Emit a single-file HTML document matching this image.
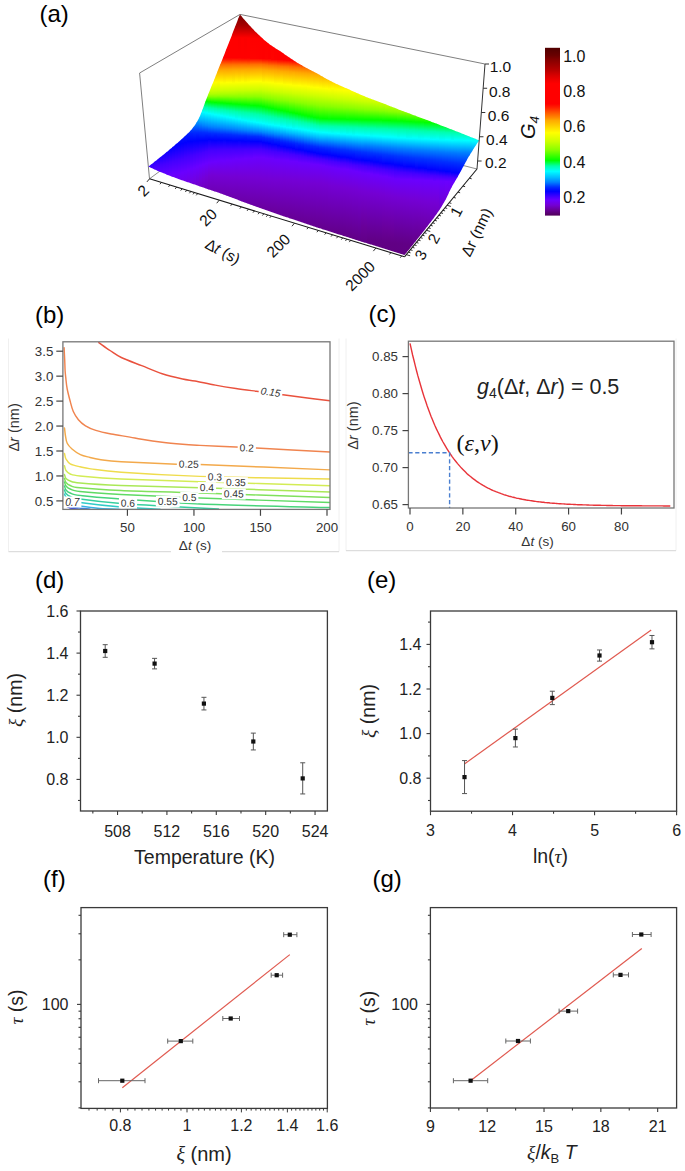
<!DOCTYPE html>
<html><head><meta charset="utf-8"><style>
html,body{margin:0;padding:0;background:#fff;}
svg{display:block;font-family:"Liberation Sans",sans-serif;}
</style></head><body>
<svg width="685" height="1171" viewBox="0 0 685 1171">
<rect width="685" height="1171" fill="#fff"/>
<path d="M139.6 73.0 L240.0 14.4 L485.0 64.0" fill="none" stroke="#707070" stroke-width="0.9" />
<path d="M149.5 178.8 L139.6 73.0" fill="none" stroke="#707070" stroke-width="0.9" />
<path d="M149.5 178.8 L243.6 109.4" fill="none" stroke="#707070" stroke-width="0.8" />
<path d="M477.0 169.0 L243.6 109.4" fill="none" stroke="#707070" stroke-width="0.8" />
<defs><clipPath id="surf"><path d="M240.0 14.4L241.9 16.7L243.7 18.9L245.6 21.1L247.5 23.2L249.3 25.3L251.2 27.3L253.1 29.2L254.9 31.2L256.8 33.0L258.6 34.8L260.5 36.6L262.4 38.3L264.2 39.9L266.1 41.5L268.0 43.0L269.8 44.5L271.7 45.8L273.6 47.0L275.4 48.2L277.3 49.4L279.2 50.6L281.0 51.8L282.9 53.1L284.8 54.4L286.7 55.7L288.6 57.0L290.4 58.3L292.3 59.6L294.2 60.8L296.1 62.0L298.0 63.2L299.9 64.3L301.8 65.3L303.7 66.4L305.6 67.4L307.5 68.4L309.4 69.4L311.3 70.4L313.2 71.4L315.2 72.5L317.1 73.5L319.0 74.6L320.9 75.7L322.9 76.8L324.8 77.9L326.7 79.0L328.7 80.1L330.6 81.1L332.5 82.1L334.5 83.0L336.4 83.9L338.4 84.8L340.3 85.7L342.3 86.6L344.3 87.4L346.2 88.3L348.2 89.1L350.2 90.0L352.1 90.9L354.1 91.8L356.1 92.7L358.1 93.5L360.1 94.4L362.0 95.3L364.0 96.1L366.0 97.0L368.0 97.8L370.0 98.6L372.0 99.3L374.1 100.1L376.1 100.8L378.1 101.6L380.1 102.3L382.1 103.1L384.2 103.8L386.2 104.6L388.2 105.4L390.3 106.2L392.3 107.0L394.4 107.8L396.4 108.6L398.5 109.4L400.5 110.2L402.6 111.0L404.6 111.7L406.7 112.5L408.8 113.3L410.9 114.1L412.9 114.9L415.0 115.6L417.1 116.4L419.2 117.2L421.3 118.0L423.4 118.8L425.5 119.6L427.6 120.3L429.7 121.1L431.8 121.9L433.9 122.7L436.1 123.5L438.2 124.3L440.3 125.2L442.4 126.0L444.6 126.8L446.7 127.6L448.8 128.4L451.0 129.3L453.1 130.1L455.3 131.0L457.4 131.8L459.6 132.6L461.8 133.5L463.9 134.3L466.1 135.2L468.3 136.1L470.4 136.9L472.6 137.8L474.8 138.6L477.0 139.5L479.2 140.4L479.2 140.4L478.6 141.2L478.1 142.0L477.5 142.8L477.0 143.6L476.4 144.4L475.9 145.3L475.3 146.1L474.8 147.0L474.2 147.8L473.7 148.7L473.1 149.6L472.5 150.5L472.0 151.4L471.4 152.4L470.8 153.3L470.2 154.2L469.7 155.2L469.1 156.1L468.5 157.1L467.9 158.1L467.4 159.1L466.8 160.1L466.2 161.2L465.6 162.3L465.0 163.4L464.4 164.5L463.8 165.6L463.2 166.7L462.6 167.8L462.0 168.9L461.5 170.0L460.9 171.1L460.3 172.1L459.7 173.2L459.1 174.3L458.5 175.3L457.9 176.4L457.3 177.4L456.7 178.4L456.1 179.5L455.5 180.5L454.9 181.6L454.3 182.6L453.6 183.7L453.0 184.7L452.4 185.8L451.8 187.0L451.2 188.1L450.6 189.2L450.0 190.4L449.3 191.7L448.7 193.1L448.1 194.5L447.4 195.9L446.8 197.2L446.2 198.5L445.5 199.7L444.9 200.8L444.3 201.9L443.7 203.0L443.0 204.1L442.4 205.1L441.8 206.2L441.2 207.2L440.5 208.2L439.9 209.2L439.3 210.1L438.7 211.0L438.0 211.9L437.4 212.8L436.8 213.7L436.2 214.6L435.5 215.4L434.9 216.3L434.3 217.2L433.7 218.0L433.0 218.9L432.4 219.7L431.8 220.6L431.1 221.4L430.5 222.2L429.8 223.0L429.2 223.9L428.6 224.7L427.9 225.5L427.3 226.4L426.6 227.2L426.0 228.0L425.4 228.9L424.7 229.7L424.1 230.5L423.4 231.4L422.8 232.2L422.1 233.0L421.4 233.9L420.8 234.7L420.1 235.5L419.5 236.4L418.8 237.2L418.1 238.1L417.5 238.9L416.8 239.8L416.1 240.6L415.5 241.4L414.8 242.3L414.1 243.1L413.5 244.0L412.8 244.8L412.1 245.7L411.4 246.5L410.8 247.3L410.1 248.2L409.4 249.0L408.7 249.9L408.0 250.7L407.3 251.6L406.6 252.4L406.0 253.2L405.3 254.1L404.6 254.9L404.6 254.9L402.2 254.2L399.7 253.4L397.3 252.7L394.9 252.0L392.5 251.2L390.1 250.5L387.8 249.8L385.4 249.0L383.0 248.3L380.6 247.5L378.3 246.8L375.9 246.1L373.6 245.3L371.2 244.6L368.9 243.9L366.5 243.1L364.2 242.4L361.9 241.7L359.6 240.9L357.2 240.2L354.9 239.5L352.6 238.8L350.3 238.0L348.0 237.3L345.7 236.6L343.5 235.9L341.2 235.1L338.9 234.4L336.6 233.7L334.4 233.0L332.1 232.3L329.8 231.5L327.6 230.8L325.4 230.1L323.1 229.4L320.9 228.6L318.6 227.9L316.4 227.2L314.2 226.5L312.0 225.7L309.8 225.0L307.6 224.3L305.4 223.5L303.2 222.8L301.0 222.1L298.8 221.3L296.6 220.6L294.4 219.8L292.2 219.1L290.1 218.4L287.9 217.6L285.7 216.9L283.6 216.2L281.4 215.4L279.3 214.7L277.1 213.9L275.0 213.2L272.9 212.5L270.7 211.7L268.6 211.0L266.5 210.3L264.4 209.5L262.2 208.8L260.1 208.1L258.0 207.3L255.9 206.6L253.8 205.8L251.7 205.0L249.6 204.3L247.6 203.5L245.5 202.7L243.4 201.9L241.3 201.2L239.3 200.4L237.2 199.6L235.1 198.8L233.1 198.1L231.0 197.3L229.0 196.5L226.9 195.8L224.9 195.0L222.9 194.3L220.8 193.6L218.8 192.8L216.8 192.1L214.8 191.4L212.7 190.7L210.7 190.1L208.7 189.4L206.7 188.7L204.7 188.0L202.7 187.3L200.8 186.7L198.8 186.0L196.8 185.3L194.8 184.6L192.8 183.9L190.9 183.3L188.9 182.6L186.9 181.9L185.0 181.2L183.0 180.5L181.1 179.9L179.1 179.2L177.2 178.5L175.3 177.8L173.3 177.1L171.4 176.4L169.5 175.6L167.5 174.9L165.6 174.1L163.7 173.3L161.8 172.5L159.8 171.7L157.9 170.9L156.0 170.0L154.1 169.2L152.2 168.3L150.3 167.5L148.4 166.6L148.4 166.6L149.2 165.9L150.1 165.2L151.0 164.5L151.9 163.9L152.8 163.2L153.7 162.5L154.5 161.8L155.4 161.1L156.3 160.4L157.2 159.7L158.0 159.0L158.9 158.3L159.8 157.6L160.6 157.0L161.5 156.3L162.3 155.6L163.2 154.9L164.1 154.2L164.9 153.5L165.8 152.8L166.6 152.1L167.5 151.4L168.3 150.7L169.1 150.0L170.0 149.3L170.8 148.6L171.7 147.9L172.5 147.1L173.3 146.4L174.2 145.7L175.0 145.0L175.8 144.3L176.6 143.6L177.5 142.9L178.3 142.2L179.1 141.5L179.9 140.7L180.7 140.0L181.6 139.3L182.4 138.5L183.2 137.8L184.0 137.1L184.8 136.3L185.6 135.6L186.4 134.8L187.2 134.1L188.0 133.3L188.8 132.5L189.6 131.7L190.4 130.8L191.2 130.0L192.0 129.1L192.7 128.1L193.5 127.1L194.3 126.0L195.0 124.9L195.8 123.7L196.5 122.5L197.3 121.3L198.0 120.0L198.8 118.6L199.5 117.1L200.2 115.4L200.9 113.6L201.7 111.7L202.4 109.8L203.1 107.9L203.8 105.9L204.5 104.0L205.2 102.1L205.9 100.3L206.6 98.5L207.3 96.7L208.0 95.0L208.7 93.2L209.4 91.5L210.1 89.7L210.8 88.0L211.5 86.2L212.2 84.5L213.0 82.7L213.7 80.9L214.4 79.2L215.1 77.4L215.8 75.6L216.5 73.9L217.2 72.1L217.9 70.3L218.6 68.6L219.3 66.8L220.0 65.1L220.7 63.4L221.4 61.7L222.1 59.9L222.8 58.2L223.5 56.5L224.2 54.7L224.9 53.0L225.5 51.3L226.2 49.5L226.9 47.8L227.6 46.0L228.3 44.3L229.0 42.5L229.7 40.8L230.4 39.0L231.1 37.2L231.8 35.4L232.5 33.6L233.1 31.8L233.8 30.0L234.5 28.2L235.2 26.5L235.9 24.7L236.6 23.0L237.3 21.3L237.9 19.5L238.6 17.8L239.3 16.1L240.0 14.4Z"/></clipPath></defs>
<g clip-path="url(#surf)">
<defs><linearGradient id="g0" x1="0" y1="0" x2="0" y2="1"><stop offset="0.000" stop-color="#2a00ff"/><stop offset="0.923" stop-color="#4700ff"/></linearGradient><linearGradient id="g1" x1="0" y1="0" x2="0" y2="1"><stop offset="0.000" stop-color="#2100ff"/><stop offset="0.952" stop-color="#4e00ff"/></linearGradient><linearGradient id="g2" x1="0" y1="0" x2="0" y2="1"><stop offset="0.000" stop-color="#1c00ff"/><stop offset="0.593" stop-color="#4400ff"/><stop offset="0.963" stop-color="#5400ff"/></linearGradient><linearGradient id="g3" x1="0" y1="0" x2="0" y2="1"><stop offset="0.000" stop-color="#1500ff"/><stop offset="0.571" stop-color="#4500ff"/><stop offset="0.971" stop-color="#5b00ff"/></linearGradient><linearGradient id="g4" x1="0" y1="0" x2="0" y2="1"><stop offset="0.000" stop-color="#0d00ff"/><stop offset="0.524" stop-color="#4300ff"/><stop offset="1.000" stop-color="#6100ff"/></linearGradient><linearGradient id="g5" x1="0" y1="0" x2="0" y2="1"><stop offset="0.000" stop-color="#0700ff"/><stop offset="0.520" stop-color="#4400ff"/><stop offset="1.000" stop-color="#6800ff"/></linearGradient><linearGradient id="g6" x1="0" y1="0" x2="0" y2="1"><stop offset="0.000" stop-color="#0000ff"/><stop offset="0.526" stop-color="#4500ff"/><stop offset="0.982" stop-color="#6a00fe"/></linearGradient><linearGradient id="g7" x1="0" y1="0" x2="0" y2="1"><stop offset="0.000" stop-color="#0004ff"/><stop offset="0.062" stop-color="#0300ff"/><stop offset="0.492" stop-color="#4300ff"/><stop offset="0.892" stop-color="#6900ff"/><stop offset="0.985" stop-color="#6b00f9"/></linearGradient><linearGradient id="g8" x1="0" y1="0" x2="0" y2="1"><stop offset="0.000" stop-color="#0008ff"/><stop offset="0.083" stop-color="#0100ff"/><stop offset="0.500" stop-color="#4500ff"/><stop offset="0.861" stop-color="#6a00ff"/><stop offset="1.000" stop-color="#6d00f4"/></linearGradient><linearGradient id="g9" x1="0" y1="0" x2="0" y2="1"><stop offset="0.000" stop-color="#000cff"/><stop offset="0.101" stop-color="#0000ff"/><stop offset="0.481" stop-color="#4200ff"/><stop offset="0.810" stop-color="#6700ff"/><stop offset="0.987" stop-color="#6d00f1"/></linearGradient><linearGradient id="g10" x1="0" y1="0" x2="0" y2="1"><stop offset="0.000" stop-color="#0013ff"/><stop offset="0.138" stop-color="#0000ff"/><stop offset="0.506" stop-color="#4500ff"/><stop offset="0.805" stop-color="#6900ff"/><stop offset="0.989" stop-color="#6e00ee"/></linearGradient><linearGradient id="g11" x1="0" y1="0" x2="0" y2="1"><stop offset="0.000" stop-color="#0018ff"/><stop offset="0.170" stop-color="#0200ff"/><stop offset="0.511" stop-color="#4600ff"/><stop offset="0.787" stop-color="#6a00ff"/><stop offset="1.000" stop-color="#6f00e9"/></linearGradient><linearGradient id="g12" x1="0" y1="0" x2="0" y2="1"><stop offset="0.000" stop-color="#0025ff"/><stop offset="0.196" stop-color="#0200ff"/><stop offset="0.490" stop-color="#4300ff"/><stop offset="0.765" stop-color="#6900ff"/><stop offset="1.000" stop-color="#7000e6"/></linearGradient><linearGradient id="g13" x1="0" y1="0" x2="0" y2="1"><stop offset="0.000" stop-color="#003fff"/><stop offset="0.091" stop-color="#001bff"/><stop offset="0.218" stop-color="#0001ff"/><stop offset="0.491" stop-color="#4200ff"/><stop offset="0.745" stop-color="#6a00ff"/><stop offset="1.000" stop-color="#7100e0"/></linearGradient><linearGradient id="g14" x1="0" y1="0" x2="0" y2="1"><stop offset="0.000" stop-color="#0060ff"/><stop offset="0.119" stop-color="#0021ff"/><stop offset="0.254" stop-color="#0000ff"/><stop offset="0.492" stop-color="#4200ff"/><stop offset="0.712" stop-color="#6700ff"/><stop offset="1.000" stop-color="#7300d9"/></linearGradient><linearGradient id="g15" x1="0" y1="0" x2="0" y2="1"><stop offset="0.000" stop-color="#0093ff"/><stop offset="0.155" stop-color="#002dff"/><stop offset="0.295" stop-color="#0001ff"/><stop offset="0.512" stop-color="#4400ff"/><stop offset="0.713" stop-color="#6900ff"/><stop offset="0.992" stop-color="#7400d3"/></linearGradient><linearGradient id="g16" x1="0" y1="0" x2="0" y2="1"><stop offset="0.000" stop-color="#00c9ff"/><stop offset="0.213" stop-color="#002eff"/><stop offset="0.255" stop-color="#001aff"/><stop offset="0.340" stop-color="#0000ff"/><stop offset="0.525" stop-color="#4400ff"/><stop offset="0.709" stop-color="#6a00ff"/><stop offset="0.993" stop-color="#7200cc"/></linearGradient><linearGradient id="g17" x1="0" y1="0" x2="0" y2="1"><stop offset="0.000" stop-color="#00ffdf"/><stop offset="0.025" stop-color="#00fffe"/><stop offset="0.126" stop-color="#00b8ff"/><stop offset="0.289" stop-color="#002cff"/><stop offset="0.390" stop-color="#0001ff"/><stop offset="0.553" stop-color="#4500ff"/><stop offset="0.704" stop-color="#6900ff"/><stop offset="0.906" stop-color="#7400d4"/><stop offset="0.994" stop-color="#7100c5"/></linearGradient><linearGradient id="g18" x1="0" y1="0" x2="0" y2="1"><stop offset="0.000" stop-color="#00ff10"/><stop offset="0.056" stop-color="#00ffa2"/><stop offset="0.124" stop-color="#00fcff"/><stop offset="0.271" stop-color="#0081ff"/><stop offset="0.350" stop-color="#002eff"/><stop offset="0.441" stop-color="#0000ff"/><stop offset="0.576" stop-color="#4500ff"/><stop offset="0.712" stop-color="#6a00ff"/><stop offset="0.881" stop-color="#7400d4"/><stop offset="0.994" stop-color="#7000bf"/></linearGradient><linearGradient id="g19" x1="0" y1="0" x2="0" y2="1"><stop offset="0.000" stop-color="#afff00"/><stop offset="0.031" stop-color="#7bff00"/><stop offset="0.082" stop-color="#00ff02"/><stop offset="0.144" stop-color="#00ffac"/><stop offset="0.195" stop-color="#00fff9"/><stop offset="0.205" stop-color="#00faff"/><stop offset="0.328" stop-color="#0087ff"/><stop offset="0.400" stop-color="#0030ff"/><stop offset="0.431" stop-color="#0019ff"/><stop offset="0.482" stop-color="#0100ff"/><stop offset="0.595" stop-color="#4500ff"/><stop offset="0.718" stop-color="#6a00ff"/><stop offset="0.862" stop-color="#7400d4"/><stop offset="0.995" stop-color="#6f00ba"/></linearGradient><linearGradient id="g20" x1="0" y1="0" x2="0" y2="1"><stop offset="0.000" stop-color="#e8ff00"/><stop offset="0.038" stop-color="#ceff00"/><stop offset="0.076" stop-color="#a7ff00"/><stop offset="0.095" stop-color="#87ff00"/><stop offset="0.142" stop-color="#0aff00"/><stop offset="0.152" stop-color="#00ff10"/><stop offset="0.199" stop-color="#00ff9e"/><stop offset="0.256" stop-color="#00fffe"/><stop offset="0.379" stop-color="#0083ff"/><stop offset="0.445" stop-color="#0029ff"/><stop offset="0.502" stop-color="#0003ff"/><stop offset="0.607" stop-color="#4500ff"/><stop offset="0.720" stop-color="#6a00fe"/><stop offset="0.844" stop-color="#7400d4"/><stop offset="0.995" stop-color="#6e00b5"/></linearGradient><linearGradient id="g21" x1="0" y1="0" x2="0" y2="1"><stop offset="0.000" stop-color="#ffe400"/><stop offset="0.035" stop-color="#feff00"/><stop offset="0.105" stop-color="#caff00"/><stop offset="0.132" stop-color="#afff00"/><stop offset="0.158" stop-color="#7eff00"/><stop offset="0.202" stop-color="#05ff00"/><stop offset="0.211" stop-color="#00ff16"/><stop offset="0.254" stop-color="#00ffa0"/><stop offset="0.263" stop-color="#00ffb3"/><stop offset="0.307" stop-color="#00fffd"/><stop offset="0.316" stop-color="#00f7ff"/><stop offset="0.421" stop-color="#0082ff"/><stop offset="0.474" stop-color="#0030ff"/><stop offset="0.535" stop-color="#0000ff"/><stop offset="0.623" stop-color="#4400ff"/><stop offset="0.728" stop-color="#6a00fe"/><stop offset="0.842" stop-color="#7400d4"/><stop offset="1.000" stop-color="#6d00b2"/></linearGradient><linearGradient id="g22" x1="0" y1="0" x2="0" y2="1"><stop offset="0.000" stop-color="#ffb200"/><stop offset="0.090" stop-color="#fffd00"/><stop offset="0.155" stop-color="#cdff00"/><stop offset="0.180" stop-color="#b3ff00"/><stop offset="0.204" stop-color="#8aff00"/><stop offset="0.253" stop-color="#00ff02"/><stop offset="0.302" stop-color="#00ffa3"/><stop offset="0.351" stop-color="#00fffc"/><stop offset="0.359" stop-color="#00f8ff"/><stop offset="0.457" stop-color="#0080ff"/><stop offset="0.506" stop-color="#002dff"/><stop offset="0.522" stop-color="#001bff"/><stop offset="0.563" stop-color="#0200ff"/><stop offset="0.637" stop-color="#4100ff"/><stop offset="0.735" stop-color="#6a00ff"/><stop offset="0.849" stop-color="#7400d4"/><stop offset="0.996" stop-color="#6d00b2"/></linearGradient><linearGradient id="g23" x1="0" y1="0" x2="0" y2="1"><stop offset="0.000" stop-color="#ff6300"/><stop offset="0.046" stop-color="#ffa700"/><stop offset="0.137" stop-color="#fffa00"/><stop offset="0.198" stop-color="#d0ff00"/><stop offset="0.229" stop-color="#adff00"/><stop offset="0.244" stop-color="#91ff00"/><stop offset="0.290" stop-color="#0fff00"/><stop offset="0.298" stop-color="#00ff09"/><stop offset="0.344" stop-color="#00ffa6"/><stop offset="0.389" stop-color="#00fffc"/><stop offset="0.397" stop-color="#00f8ff"/><stop offset="0.481" stop-color="#0089ff"/><stop offset="0.534" stop-color="#002aff"/><stop offset="0.580" stop-color="#0002ff"/><stop offset="0.656" stop-color="#4500ff"/><stop offset="0.740" stop-color="#6900ff"/><stop offset="0.855" stop-color="#7400d3"/><stop offset="1.000" stop-color="#6d00b0"/></linearGradient><linearGradient id="g24" x1="0" y1="0" x2="0" y2="1"><stop offset="0.000" stop-color="#ff0000"/><stop offset="0.014" stop-color="#ff0900"/><stop offset="0.057" stop-color="#ff6b00"/><stop offset="0.100" stop-color="#ffac00"/><stop offset="0.186" stop-color="#fffe00"/><stop offset="0.194" stop-color="#f9ff00"/><stop offset="0.244" stop-color="#cdff00"/><stop offset="0.272" stop-color="#a6ff00"/><stop offset="0.287" stop-color="#8aff00"/><stop offset="0.330" stop-color="#09ff00"/><stop offset="0.337" stop-color="#00ff0f"/><stop offset="0.380" stop-color="#00ffa9"/><stop offset="0.423" stop-color="#00fffb"/><stop offset="0.430" stop-color="#00f8ff"/><stop offset="0.509" stop-color="#0087ff"/><stop offset="0.559" stop-color="#0028ff"/><stop offset="0.602" stop-color="#0100ff"/><stop offset="0.667" stop-color="#4200ff"/><stop offset="0.746" stop-color="#6900ff"/><stop offset="0.853" stop-color="#7400d5"/><stop offset="0.996" stop-color="#6d00af"/></linearGradient><linearGradient id="g25" x1="0" y1="0" x2="0" y2="1"><stop offset="0.000" stop-color="#ff0000"/><stop offset="0.061" stop-color="#ff0100"/><stop offset="0.108" stop-color="#ff7300"/><stop offset="0.142" stop-color="#ffa800"/><stop offset="0.230" stop-color="#fcff00"/><stop offset="0.277" stop-color="#cfff00"/><stop offset="0.304" stop-color="#acff00"/><stop offset="0.324" stop-color="#82ff00"/><stop offset="0.365" stop-color="#03ff00"/><stop offset="0.372" stop-color="#00ff16"/><stop offset="0.412" stop-color="#00ffab"/><stop offset="0.453" stop-color="#00fffa"/><stop offset="0.459" stop-color="#00f8ff"/><stop offset="0.534" stop-color="#0085ff"/><stop offset="0.574" stop-color="#002fff"/><stop offset="0.615" stop-color="#0003ff"/><stop offset="0.682" stop-color="#4500ff"/><stop offset="0.757" stop-color="#6a00fe"/><stop offset="0.858" stop-color="#7400d4"/><stop offset="1.000" stop-color="#6c00ad"/></linearGradient><linearGradient id="g26" x1="0" y1="0" x2="0" y2="1"><stop offset="0.000" stop-color="#ff0000"/><stop offset="0.102" stop-color="#ff0000"/><stop offset="0.115" stop-color="#ff1600"/><stop offset="0.147" stop-color="#ff6c00"/><stop offset="0.179" stop-color="#ffa300"/><stop offset="0.262" stop-color="#ffff00"/><stop offset="0.313" stop-color="#ccff00"/><stop offset="0.332" stop-color="#b1ff00"/><stop offset="0.351" stop-color="#8bff00"/><stop offset="0.396" stop-color="#00ff03"/><stop offset="0.441" stop-color="#00ffac"/><stop offset="0.479" stop-color="#00fffa"/><stop offset="0.486" stop-color="#00f9ff"/><stop offset="0.556" stop-color="#0083ff"/><stop offset="0.594" stop-color="#002cff"/><stop offset="0.633" stop-color="#0000ff"/><stop offset="0.690" stop-color="#4300ff"/><stop offset="0.760" stop-color="#6a00fe"/><stop offset="0.863" stop-color="#7400d3"/><stop offset="0.997" stop-color="#6c00ad"/></linearGradient><linearGradient id="g27" x1="0" y1="0" x2="0" y2="1"><stop offset="0.000" stop-color="#e30000"/><stop offset="0.030" stop-color="#ff0000"/><stop offset="0.145" stop-color="#ff0000"/><stop offset="0.157" stop-color="#ff1600"/><stop offset="0.187" stop-color="#ff6c00"/><stop offset="0.217" stop-color="#ffa400"/><stop offset="0.295" stop-color="#feff00"/><stop offset="0.343" stop-color="#cbff00"/><stop offset="0.361" stop-color="#b0ff00"/><stop offset="0.380" stop-color="#8bff00"/><stop offset="0.422" stop-color="#02ff00"/><stop offset="0.428" stop-color="#00ff15"/><stop offset="0.464" stop-color="#00ffa4"/><stop offset="0.506" stop-color="#00feff"/><stop offset="0.572" stop-color="#0087ff"/><stop offset="0.608" stop-color="#002eff"/><stop offset="0.645" stop-color="#0001ff"/><stop offset="0.699" stop-color="#4300ff"/><stop offset="0.765" stop-color="#6a00fe"/><stop offset="0.861" stop-color="#7400d4"/><stop offset="1.000" stop-color="#6c00aa"/></linearGradient><linearGradient id="g28" x1="0" y1="0" x2="0" y2="1"><stop offset="0.000" stop-color="#aa0000"/><stop offset="0.069" stop-color="#ff0000"/><stop offset="0.183" stop-color="#ff0000"/><stop offset="0.223" stop-color="#ff7400"/><stop offset="0.252" stop-color="#ffaa00"/><stop offset="0.327" stop-color="#faff00"/><stop offset="0.367" stop-color="#ceff00"/><stop offset="0.390" stop-color="#aaff00"/><stop offset="0.407" stop-color="#84ff00"/><stop offset="0.447" stop-color="#00ff04"/><stop offset="0.487" stop-color="#00ffa7"/><stop offset="0.527" stop-color="#00ffff"/><stop offset="0.590" stop-color="#0085ff"/><stop offset="0.625" stop-color="#002bff"/><stop offset="0.659" stop-color="#0200ff"/><stop offset="0.711" stop-color="#4600ff"/><stop offset="0.768" stop-color="#6a00fe"/><stop offset="0.860" stop-color="#7400d5"/><stop offset="0.997" stop-color="#6c00aa"/></linearGradient><linearGradient id="g29" x1="0" y1="0" x2="0" y2="1"><stop offset="0.000" stop-color="#8a0000"/><stop offset="0.038" stop-color="#a30000"/><stop offset="0.109" stop-color="#ff0000"/><stop offset="0.218" stop-color="#ff0000"/><stop offset="0.256" stop-color="#ff7400"/><stop offset="0.283" stop-color="#ffaa00"/><stop offset="0.349" stop-color="#fffe00"/><stop offset="0.354" stop-color="#faff00"/><stop offset="0.392" stop-color="#cdff00"/><stop offset="0.414" stop-color="#a9ff00"/><stop offset="0.431" stop-color="#85ff00"/><stop offset="0.469" stop-color="#01ff00"/><stop offset="0.474" stop-color="#00ff15"/><stop offset="0.512" stop-color="#00ffb0"/><stop offset="0.550" stop-color="#00faff"/><stop offset="0.605" stop-color="#0089ff"/><stop offset="0.638" stop-color="#002dff"/><stop offset="0.670" stop-color="#0100ff"/><stop offset="0.714" stop-color="#4000ff"/><stop offset="0.768" stop-color="#6900ff"/><stop offset="0.866" stop-color="#7400d3"/><stop offset="0.997" stop-color="#6b00a8"/></linearGradient><linearGradient id="g30" x1="0" y1="0" x2="0" y2="1"><stop offset="0.000" stop-color="#750000"/><stop offset="0.063" stop-color="#a70000"/><stop offset="0.127" stop-color="#fc0000"/><stop offset="0.233" stop-color="#ff0000"/><stop offset="0.243" stop-color="#ff1500"/><stop offset="0.270" stop-color="#ff6e00"/><stop offset="0.296" stop-color="#ffa500"/><stop offset="0.365" stop-color="#fcff00"/><stop offset="0.407" stop-color="#c9ff00"/><stop offset="0.439" stop-color="#8cff00"/><stop offset="0.481" stop-color="#00ff04"/><stop offset="0.519" stop-color="#00ffa1"/><stop offset="0.556" stop-color="#00fff8"/><stop offset="0.561" stop-color="#00faff"/><stop offset="0.614" stop-color="#0087ff"/><stop offset="0.646" stop-color="#002aff"/><stop offset="0.672" stop-color="#0003ff"/><stop offset="0.720" stop-color="#4400ff"/><stop offset="0.772" stop-color="#6a00fe"/><stop offset="0.862" stop-color="#7400d5"/><stop offset="1.000" stop-color="#6b00a6"/></linearGradient><linearGradient id="g31" x1="0" y1="0" x2="0" y2="1"><stop offset="0.000" stop-color="#770000"/><stop offset="0.058" stop-color="#a30000"/><stop offset="0.126" stop-color="#ff0000"/><stop offset="0.232" stop-color="#ff0000"/><stop offset="0.242" stop-color="#ff1c00"/><stop offset="0.268" stop-color="#ff7500"/><stop offset="0.295" stop-color="#ffab00"/><stop offset="0.358" stop-color="#ffff00"/><stop offset="0.400" stop-color="#cdff00"/><stop offset="0.421" stop-color="#a8ff00"/><stop offset="0.437" stop-color="#86ff00"/><stop offset="0.474" stop-color="#0aff00"/><stop offset="0.479" stop-color="#00ff0a"/><stop offset="0.516" stop-color="#00ffa3"/><stop offset="0.558" stop-color="#00fbff"/><stop offset="0.611" stop-color="#0084ff"/><stop offset="0.642" stop-color="#0027ff"/><stop offset="0.668" stop-color="#0000ff"/><stop offset="0.711" stop-color="#4100ff"/><stop offset="0.763" stop-color="#6a00fe"/><stop offset="0.858" stop-color="#7400d4"/><stop offset="1.000" stop-color="#6a00a4"/></linearGradient><linearGradient id="g32" x1="0" y1="0" x2="0" y2="1"><stop offset="0.000" stop-color="#880000"/><stop offset="0.043" stop-color="#a70000"/><stop offset="0.107" stop-color="#fc0000"/><stop offset="0.213" stop-color="#ff0000"/><stop offset="0.219" stop-color="#ff0500"/><stop offset="0.224" stop-color="#ff1400"/><stop offset="0.251" stop-color="#ff6f00"/><stop offset="0.277" stop-color="#ffa600"/><stop offset="0.347" stop-color="#fbff00"/><stop offset="0.389" stop-color="#c8ff00"/><stop offset="0.421" stop-color="#8dff00"/><stop offset="0.464" stop-color="#05ff00"/><stop offset="0.469" stop-color="#00ff10"/><stop offset="0.507" stop-color="#00ffa5"/><stop offset="0.549" stop-color="#00fbff"/><stop offset="0.603" stop-color="#0082ff"/><stop offset="0.629" stop-color="#002fff"/><stop offset="0.640" stop-color="#0019ff"/><stop offset="0.661" stop-color="#0300ff"/><stop offset="0.704" stop-color="#4500ff"/><stop offset="0.752" stop-color="#6a00ff"/><stop offset="0.853" stop-color="#7400d3"/><stop offset="0.997" stop-color="#6a00a4"/></linearGradient><linearGradient id="g33" x1="0" y1="0" x2="0" y2="1"><stop offset="0.000" stop-color="#950000"/><stop offset="0.022" stop-color="#a30000"/><stop offset="0.092" stop-color="#ff0000"/><stop offset="0.200" stop-color="#ff0000"/><stop offset="0.211" stop-color="#ff1b00"/><stop offset="0.238" stop-color="#ff7500"/><stop offset="0.259" stop-color="#ffa100"/><stop offset="0.330" stop-color="#feff00"/><stop offset="0.373" stop-color="#ccff00"/><stop offset="0.411" stop-color="#88ff00"/><stop offset="0.454" stop-color="#00ff00"/><stop offset="0.497" stop-color="#00ffa8"/><stop offset="0.541" stop-color="#00fcff"/><stop offset="0.595" stop-color="#0080ff"/><stop offset="0.622" stop-color="#002bff"/><stop offset="0.649" stop-color="#0002ff"/><stop offset="0.692" stop-color="#4200ff"/><stop offset="0.741" stop-color="#6900ff"/><stop offset="0.843" stop-color="#7400d5"/><stop offset="1.000" stop-color="#6a00a2"/></linearGradient><linearGradient id="g34" x1="0" y1="0" x2="0" y2="1"><stop offset="0.000" stop-color="#a20000"/><stop offset="0.060" stop-color="#f10000"/><stop offset="0.077" stop-color="#ff0000"/><stop offset="0.186" stop-color="#ff0300"/><stop offset="0.219" stop-color="#ff7000"/><stop offset="0.247" stop-color="#ffa800"/><stop offset="0.312" stop-color="#fffe00"/><stop offset="0.318" stop-color="#faff00"/><stop offset="0.362" stop-color="#c7ff00"/><stop offset="0.395" stop-color="#8dff00"/><stop offset="0.444" stop-color="#00ff05"/><stop offset="0.488" stop-color="#00ffaa"/><stop offset="0.532" stop-color="#00fcff"/><stop offset="0.581" stop-color="#008bff"/><stop offset="0.614" stop-color="#0028ff"/><stop offset="0.641" stop-color="#0100ff"/><stop offset="0.685" stop-color="#4500ff"/><stop offset="0.734" stop-color="#6a00fe"/><stop offset="0.838" stop-color="#7400d4"/><stop offset="0.997" stop-color="#6a00a2"/></linearGradient><linearGradient id="g35" x1="0" y1="0" x2="0" y2="1"><stop offset="0.000" stop-color="#b40000"/><stop offset="0.039" stop-color="#ea0000"/><stop offset="0.061" stop-color="#ff0000"/><stop offset="0.171" stop-color="#ff0300"/><stop offset="0.204" stop-color="#ff7000"/><stop offset="0.232" stop-color="#ffa800"/><stop offset="0.298" stop-color="#fffe00"/><stop offset="0.304" stop-color="#f9ff00"/><stop offset="0.343" stop-color="#ceff00"/><stop offset="0.381" stop-color="#8dff00"/><stop offset="0.431" stop-color="#00ff01"/><stop offset="0.475" stop-color="#00ffa2"/><stop offset="0.519" stop-color="#00fffc"/><stop offset="0.525" stop-color="#00f7ff"/><stop offset="0.575" stop-color="#0082ff"/><stop offset="0.602" stop-color="#002aff"/><stop offset="0.630" stop-color="#0100ff"/><stop offset="0.674" stop-color="#4600ff"/><stop offset="0.718" stop-color="#6a00ff"/><stop offset="0.829" stop-color="#7400d4"/><stop offset="1.000" stop-color="#69009f"/></linearGradient><linearGradient id="g36" x1="0" y1="0" x2="0" y2="1"><stop offset="0.000" stop-color="#cc0000"/><stop offset="0.045" stop-color="#ff0000"/><stop offset="0.156" stop-color="#ff0200"/><stop offset="0.190" stop-color="#ff7100"/><stop offset="0.218" stop-color="#ffa900"/><stop offset="0.285" stop-color="#ffff00"/><stop offset="0.330" stop-color="#ceff00"/><stop offset="0.369" stop-color="#8eff00"/><stop offset="0.419" stop-color="#03ff00"/><stop offset="0.425" stop-color="#00ff10"/><stop offset="0.469" stop-color="#00ffac"/><stop offset="0.514" stop-color="#00fdff"/><stop offset="0.564" stop-color="#0086ff"/><stop offset="0.592" stop-color="#002dff"/><stop offset="0.620" stop-color="#0000ff"/><stop offset="0.665" stop-color="#4600ff"/><stop offset="0.709" stop-color="#6a00fe"/><stop offset="0.821" stop-color="#7400d5"/><stop offset="1.000" stop-color="#69009e"/></linearGradient><linearGradient id="g37" x1="0" y1="0" x2="0" y2="1"><stop offset="0.000" stop-color="#e30000"/><stop offset="0.028" stop-color="#ff0000"/><stop offset="0.141" stop-color="#ff0100"/><stop offset="0.175" stop-color="#ff7100"/><stop offset="0.203" stop-color="#ffa900"/><stop offset="0.271" stop-color="#ffff00"/><stop offset="0.316" stop-color="#cdff00"/><stop offset="0.356" stop-color="#8fff00"/><stop offset="0.407" stop-color="#08ff00"/><stop offset="0.412" stop-color="#00ff0a"/><stop offset="0.458" stop-color="#00ffa6"/><stop offset="0.503" stop-color="#00fffb"/><stop offset="0.508" stop-color="#00f7ff"/><stop offset="0.554" stop-color="#008bff"/><stop offset="0.582" stop-color="#0030ff"/><stop offset="0.610" stop-color="#0002ff"/><stop offset="0.655" stop-color="#4600ff"/><stop offset="0.701" stop-color="#6a00fe"/><stop offset="0.819" stop-color="#7400d3"/><stop offset="1.000" stop-color="#69009c"/></linearGradient><linearGradient id="g38" x1="0" y1="0" x2="0" y2="1"><stop offset="0.000" stop-color="#f50000"/><stop offset="0.011" stop-color="#ff0000"/><stop offset="0.126" stop-color="#ff0000"/><stop offset="0.137" stop-color="#ff1e00"/><stop offset="0.160" stop-color="#ff6d00"/><stop offset="0.189" stop-color="#ffa600"/><stop offset="0.263" stop-color="#fbff00"/><stop offset="0.309" stop-color="#c8ff00"/><stop offset="0.349" stop-color="#89ff00"/><stop offset="0.400" stop-color="#02ff00"/><stop offset="0.406" stop-color="#00ff11"/><stop offset="0.451" stop-color="#00ffac"/><stop offset="0.497" stop-color="#00fdff"/><stop offset="0.549" stop-color="#0084ff"/><stop offset="0.577" stop-color="#002aff"/><stop offset="0.606" stop-color="#0200ff"/><stop offset="0.646" stop-color="#4300ff"/><stop offset="0.691" stop-color="#6a00ff"/><stop offset="0.811" stop-color="#7400d4"/><stop offset="1.000" stop-color="#69009b"/></linearGradient><linearGradient id="g39" x1="0" y1="0" x2="0" y2="1"><stop offset="0.000" stop-color="#ff0000"/><stop offset="0.115" stop-color="#ff0200"/><stop offset="0.150" stop-color="#ff7200"/><stop offset="0.179" stop-color="#ffa900"/><stop offset="0.248" stop-color="#fffe00"/><stop offset="0.254" stop-color="#f9ff00"/><stop offset="0.300" stop-color="#c7ff00"/><stop offset="0.340" stop-color="#89ff00"/><stop offset="0.392" stop-color="#04ff00"/><stop offset="0.398" stop-color="#00ff0f"/><stop offset="0.444" stop-color="#00ffac"/><stop offset="0.490" stop-color="#00fdff"/><stop offset="0.542" stop-color="#0083ff"/><stop offset="0.571" stop-color="#002bff"/><stop offset="0.599" stop-color="#0100ff"/><stop offset="0.640" stop-color="#4300ff"/><stop offset="0.686" stop-color="#6a00ff"/><stop offset="0.807" stop-color="#7400d3"/><stop offset="0.997" stop-color="#69009b"/></linearGradient><linearGradient id="g40" x1="0" y1="0" x2="0" y2="1"><stop offset="0.000" stop-color="#ff0000"/><stop offset="0.099" stop-color="#ff0000"/><stop offset="0.110" stop-color="#ff1700"/><stop offset="0.140" stop-color="#ff7400"/><stop offset="0.169" stop-color="#ffab00"/><stop offset="0.238" stop-color="#feff00"/><stop offset="0.285" stop-color="#ceff00"/><stop offset="0.331" stop-color="#88ff00"/><stop offset="0.384" stop-color="#06ff00"/><stop offset="0.390" stop-color="#00ff0c"/><stop offset="0.436" stop-color="#00ffab"/><stop offset="0.483" stop-color="#00fdff"/><stop offset="0.535" stop-color="#0083ff"/><stop offset="0.564" stop-color="#002bff"/><stop offset="0.593" stop-color="#0000ff"/><stop offset="0.634" stop-color="#4300ff"/><stop offset="0.680" stop-color="#6a00fe"/><stop offset="0.797" stop-color="#7400d5"/><stop offset="1.000" stop-color="#680099"/></linearGradient><linearGradient id="g41" x1="0" y1="0" x2="0" y2="1"><stop offset="0.000" stop-color="#ff0000"/><stop offset="0.094" stop-color="#ff0400"/><stop offset="0.129" stop-color="#ff7200"/><stop offset="0.158" stop-color="#ffa900"/><stop offset="0.228" stop-color="#fffd00"/><stop offset="0.234" stop-color="#faff00"/><stop offset="0.281" stop-color="#c9ff00"/><stop offset="0.322" stop-color="#8cff00"/><stop offset="0.380" stop-color="#00ff00"/><stop offset="0.427" stop-color="#00ffa2"/><stop offset="0.474" stop-color="#00fffc"/><stop offset="0.480" stop-color="#00f6ff"/><stop offset="0.526" stop-color="#0089ff"/><stop offset="0.556" stop-color="#0032ff"/><stop offset="0.567" stop-color="#001aff"/><stop offset="0.591" stop-color="#0400ff"/><stop offset="0.632" stop-color="#4600ff"/><stop offset="0.673" stop-color="#6a00ff"/><stop offset="0.795" stop-color="#7400d3"/><stop offset="1.000" stop-color="#680098"/></linearGradient><linearGradient id="g42" x1="0" y1="0" x2="0" y2="1"><stop offset="0.000" stop-color="#ff0000"/><stop offset="0.082" stop-color="#ff0100"/><stop offset="0.118" stop-color="#ff6e00"/><stop offset="0.147" stop-color="#ffa600"/><stop offset="0.224" stop-color="#fcff00"/><stop offset="0.271" stop-color="#ccff00"/><stop offset="0.318" stop-color="#86ff00"/><stop offset="0.371" stop-color="#09ff00"/><stop offset="0.376" stop-color="#00ff07"/><stop offset="0.424" stop-color="#00ffaa"/><stop offset="0.471" stop-color="#00fcff"/><stop offset="0.524" stop-color="#0082ff"/><stop offset="0.553" stop-color="#002cff"/><stop offset="0.582" stop-color="#0002ff"/><stop offset="0.624" stop-color="#4300ff"/><stop offset="0.671" stop-color="#6a00fe"/><stop offset="0.788" stop-color="#7400d4"/><stop offset="1.000" stop-color="#680097"/></linearGradient><linearGradient id="g43" x1="0" y1="0" x2="0" y2="1"><stop offset="0.000" stop-color="#ff0000"/><stop offset="0.071" stop-color="#ff0000"/><stop offset="0.083" stop-color="#ff1d00"/><stop offset="0.107" stop-color="#ff6a00"/><stop offset="0.136" stop-color="#ffa300"/><stop offset="0.213" stop-color="#feff00"/><stop offset="0.260" stop-color="#ceff00"/><stop offset="0.308" stop-color="#8bff00"/><stop offset="0.367" stop-color="#04ff00"/><stop offset="0.373" stop-color="#00ff0f"/><stop offset="0.420" stop-color="#00ffaf"/><stop offset="0.462" stop-color="#00fffc"/><stop offset="0.467" stop-color="#00f5ff"/><stop offset="0.515" stop-color="#0088ff"/><stop offset="0.544" stop-color="#0033ff"/><stop offset="0.556" stop-color="#001bff"/><stop offset="0.580" stop-color="#0100ff"/><stop offset="0.621" stop-color="#4600ff"/><stop offset="0.663" stop-color="#6a00ff"/><stop offset="0.781" stop-color="#7400d4"/><stop offset="1.000" stop-color="#670097"/></linearGradient><linearGradient id="g44" x1="0" y1="0" x2="0" y2="1"><stop offset="0.000" stop-color="#ff0000"/><stop offset="0.060" stop-color="#ff0000"/><stop offset="0.071" stop-color="#ff1a00"/><stop offset="0.101" stop-color="#ff7500"/><stop offset="0.131" stop-color="#ffab00"/><stop offset="0.202" stop-color="#fffe00"/><stop offset="0.208" stop-color="#faff00"/><stop offset="0.256" stop-color="#c9ff00"/><stop offset="0.304" stop-color="#85ff00"/><stop offset="0.363" stop-color="#00ff02"/><stop offset="0.411" stop-color="#00ffa9"/><stop offset="0.458" stop-color="#00fbff"/><stop offset="0.494" stop-color="#00adff"/><stop offset="0.542" stop-color="#002dff"/><stop offset="0.554" stop-color="#0018ff"/><stop offset="0.577" stop-color="#0500ff"/><stop offset="0.613" stop-color="#4300ff"/><stop offset="0.661" stop-color="#6a00fd"/><stop offset="0.774" stop-color="#7400d5"/><stop offset="1.000" stop-color="#670096"/></linearGradient><linearGradient id="g45" x1="0" y1="0" x2="0" y2="1"><stop offset="0.000" stop-color="#ff0000"/><stop offset="0.048" stop-color="#ff0000"/><stop offset="0.054" stop-color="#ff0700"/><stop offset="0.090" stop-color="#ff7300"/><stop offset="0.120" stop-color="#ffa900"/><stop offset="0.198" stop-color="#fcff00"/><stop offset="0.246" stop-color="#ccff00"/><stop offset="0.293" stop-color="#8aff00"/><stop offset="0.353" stop-color="#07ff00"/><stop offset="0.359" stop-color="#00ff0a"/><stop offset="0.407" stop-color="#00ffae"/><stop offset="0.449" stop-color="#00fffd"/><stop offset="0.455" stop-color="#00f5ff"/><stop offset="0.503" stop-color="#0087ff"/><stop offset="0.533" stop-color="#0034ff"/><stop offset="0.545" stop-color="#001cff"/><stop offset="0.569" stop-color="#0001ff"/><stop offset="0.611" stop-color="#4600ff"/><stop offset="0.653" stop-color="#6a00fe"/><stop offset="0.772" stop-color="#7400d3"/><stop offset="1.000" stop-color="#670095"/></linearGradient><linearGradient id="g46" x1="0" y1="0" x2="0" y2="1"><stop offset="0.000" stop-color="#ff0000"/><stop offset="0.042" stop-color="#ff0300"/><stop offset="0.078" stop-color="#ff7000"/><stop offset="0.108" stop-color="#ffa600"/><stop offset="0.187" stop-color="#feff00"/><stop offset="0.235" stop-color="#ceff00"/><stop offset="0.283" stop-color="#8dff00"/><stop offset="0.349" stop-color="#02ff00"/><stop offset="0.355" stop-color="#00ff12"/><stop offset="0.398" stop-color="#00ffa7"/><stop offset="0.446" stop-color="#00fbff"/><stop offset="0.476" stop-color="#00bbff"/><stop offset="0.530" stop-color="#002dff"/><stop offset="0.542" stop-color="#0019ff"/><stop offset="0.566" stop-color="#0300ff"/><stop offset="0.602" stop-color="#4300ff"/><stop offset="0.645" stop-color="#6a00ff"/><stop offset="0.765" stop-color="#7400d4"/><stop offset="1.000" stop-color="#670094"/></linearGradient><linearGradient id="g47" x1="0" y1="0" x2="0" y2="1"><stop offset="0.000" stop-color="#ff0000"/><stop offset="0.030" stop-color="#ff0000"/><stop offset="0.067" stop-color="#ff6c00"/><stop offset="0.097" stop-color="#ffa300"/><stop offset="0.176" stop-color="#fffe00"/><stop offset="0.182" stop-color="#faff00"/><stop offset="0.230" stop-color="#c9ff00"/><stop offset="0.279" stop-color="#89ff00"/><stop offset="0.345" stop-color="#00ff04"/><stop offset="0.394" stop-color="#00ffad"/><stop offset="0.436" stop-color="#00fffe"/><stop offset="0.442" stop-color="#00f4ff"/><stop offset="0.473" stop-color="#00b3ff"/><stop offset="0.521" stop-color="#0035ff"/><stop offset="0.533" stop-color="#001dff"/><stop offset="0.558" stop-color="#0002ff"/><stop offset="0.600" stop-color="#4600ff"/><stop offset="0.642" stop-color="#6a00fe"/><stop offset="0.758" stop-color="#7400d4"/><stop offset="1.000" stop-color="#660093"/></linearGradient><linearGradient id="g48" x1="0" y1="0" x2="0" y2="1"><stop offset="0.000" stop-color="#ff0000"/><stop offset="0.018" stop-color="#ff0000"/><stop offset="0.030" stop-color="#ff1c00"/><stop offset="0.055" stop-color="#ff6800"/><stop offset="0.091" stop-color="#ffab00"/><stop offset="0.171" stop-color="#fcff00"/><stop offset="0.220" stop-color="#ccff00"/><stop offset="0.268" stop-color="#8cff00"/><stop offset="0.335" stop-color="#05ff00"/><stop offset="0.341" stop-color="#00ff0c"/><stop offset="0.384" stop-color="#00ffa4"/><stop offset="0.433" stop-color="#00faff"/><stop offset="0.463" stop-color="#00baff"/><stop offset="0.518" stop-color="#002eff"/><stop offset="0.530" stop-color="#001aff"/><stop offset="0.555" stop-color="#0100ff"/><stop offset="0.591" stop-color="#4300ff"/><stop offset="0.634" stop-color="#6a00fe"/><stop offset="0.750" stop-color="#7400d5"/><stop offset="1.000" stop-color="#660092"/></linearGradient><linearGradient id="g49" x1="0" y1="0" x2="0" y2="1"><stop offset="0.000" stop-color="#ff0000"/><stop offset="0.012" stop-color="#ff0900"/><stop offset="0.049" stop-color="#ff7400"/><stop offset="0.080" stop-color="#ffa800"/><stop offset="0.160" stop-color="#fdff00"/><stop offset="0.209" stop-color="#ceff00"/><stop offset="0.264" stop-color="#87ff00"/><stop offset="0.331" stop-color="#01ff00"/><stop offset="0.380" stop-color="#00ffac"/><stop offset="0.423" stop-color="#00fffe"/><stop offset="0.460" stop-color="#00b2ff"/><stop offset="0.515" stop-color="#0029ff"/><stop offset="0.552" stop-color="#0500ff"/><stop offset="0.589" stop-color="#4600ff"/><stop offset="0.626" stop-color="#6900ff"/><stop offset="0.748" stop-color="#7400d3"/><stop offset="1.000" stop-color="#660092"/></linearGradient><linearGradient id="g50" x1="0" y1="0" x2="0" y2="1"><stop offset="0.000" stop-color="#ff0600"/><stop offset="0.037" stop-color="#ff7200"/><stop offset="0.068" stop-color="#ffa600"/><stop offset="0.148" stop-color="#ffff00"/><stop offset="0.203" stop-color="#c9ff00"/><stop offset="0.252" stop-color="#8bff00"/><stop offset="0.320" stop-color="#08ff00"/><stop offset="0.326" stop-color="#00ff07"/><stop offset="0.369" stop-color="#00ffa2"/><stop offset="0.412" stop-color="#00fff8"/><stop offset="0.418" stop-color="#00f9ff"/><stop offset="0.449" stop-color="#00b9ff"/><stop offset="0.505" stop-color="#002fff"/><stop offset="0.517" stop-color="#001aff"/><stop offset="0.542" stop-color="#0001ff"/><stop offset="0.578" stop-color="#4300ff"/><stop offset="0.622" stop-color="#6a00fe"/><stop offset="0.738" stop-color="#7400d4"/><stop offset="0.997" stop-color="#650091"/></linearGradient><linearGradient id="g51" x1="0" y1="0" x2="0" y2="1"><stop offset="0.000" stop-color="#ff1a00"/><stop offset="0.031" stop-color="#ff7400"/><stop offset="0.062" stop-color="#ffa800"/><stop offset="0.142" stop-color="#feff00"/><stop offset="0.191" stop-color="#cfff00"/><stop offset="0.247" stop-color="#8aff00"/><stop offset="0.315" stop-color="#0aff00"/><stop offset="0.321" stop-color="#00ff04"/><stop offset="0.364" stop-color="#00ffa1"/><stop offset="0.407" stop-color="#00fff9"/><stop offset="0.414" stop-color="#00f9ff"/><stop offset="0.444" stop-color="#00b8ff"/><stop offset="0.500" stop-color="#002fff"/><stop offset="0.512" stop-color="#001bff"/><stop offset="0.537" stop-color="#0002ff"/><stop offset="0.574" stop-color="#4300ff"/><stop offset="0.617" stop-color="#6a00fe"/><stop offset="0.735" stop-color="#7400d3"/><stop offset="1.000" stop-color="#65008f"/></linearGradient><linearGradient id="g52" x1="0" y1="0" x2="0" y2="1"><stop offset="0.000" stop-color="#ff3b00"/><stop offset="0.019" stop-color="#ff7200"/><stop offset="0.050" stop-color="#ffa600"/><stop offset="0.130" stop-color="#fffe00"/><stop offset="0.186" stop-color="#cbff00"/><stop offset="0.242" stop-color="#85ff00"/><stop offset="0.311" stop-color="#05ff00"/><stop offset="0.317" stop-color="#00ff0c"/><stop offset="0.360" stop-color="#00ffaa"/><stop offset="0.404" stop-color="#00ffff"/><stop offset="0.435" stop-color="#00bfff"/><stop offset="0.497" stop-color="#002aff"/><stop offset="0.534" stop-color="#0200ff"/><stop offset="0.571" stop-color="#4700ff"/><stop offset="0.609" stop-color="#6a00fe"/><stop offset="0.727" stop-color="#7400d4"/><stop offset="1.000" stop-color="#65008f"/></linearGradient><linearGradient id="g53" x1="0" y1="0" x2="0" y2="1"><stop offset="0.000" stop-color="#ff5400"/><stop offset="0.012" stop-color="#ff7500"/><stop offset="0.044" stop-color="#ffa800"/><stop offset="0.125" stop-color="#ffff00"/><stop offset="0.181" stop-color="#c9ff00"/><stop offset="0.237" stop-color="#85ff00"/><stop offset="0.305" stop-color="#07ff00"/><stop offset="0.312" stop-color="#00ff09"/><stop offset="0.355" stop-color="#00ffaa"/><stop offset="0.399" stop-color="#00ffff"/><stop offset="0.430" stop-color="#00beff"/><stop offset="0.492" stop-color="#002aff"/><stop offset="0.530" stop-color="#0000ff"/><stop offset="0.567" stop-color="#4700ff"/><stop offset="0.604" stop-color="#6a00fe"/><stop offset="0.723" stop-color="#7400d3"/><stop offset="0.997" stop-color="#65008f"/></linearGradient><linearGradient id="g54" x1="0" y1="0" x2="0" y2="1"><stop offset="0.000" stop-color="#ff6b00"/><stop offset="0.037" stop-color="#ffab00"/><stop offset="0.119" stop-color="#feff00"/><stop offset="0.169" stop-color="#cfff00"/><stop offset="0.225" stop-color="#8dff00"/><stop offset="0.300" stop-color="#08ff00"/><stop offset="0.306" stop-color="#00ff07"/><stop offset="0.350" stop-color="#00ffa9"/><stop offset="0.394" stop-color="#00feff"/><stop offset="0.425" stop-color="#00beff"/><stop offset="0.487" stop-color="#002bff"/><stop offset="0.525" stop-color="#0000ff"/><stop offset="0.562" stop-color="#4700ff"/><stop offset="0.600" stop-color="#6a00fe"/><stop offset="0.719" stop-color="#7400d3"/><stop offset="1.000" stop-color="#64008d"/></linearGradient><linearGradient id="g55" x1="0" y1="0" x2="0" y2="1"><stop offset="0.000" stop-color="#ff7a00"/><stop offset="0.031" stop-color="#ffac00"/><stop offset="0.113" stop-color="#fdff00"/><stop offset="0.164" stop-color="#ceff00"/><stop offset="0.220" stop-color="#8cff00"/><stop offset="0.302" stop-color="#00ff04"/><stop offset="0.346" stop-color="#00ffa7"/><stop offset="0.390" stop-color="#00feff"/><stop offset="0.421" stop-color="#00beff"/><stop offset="0.484" stop-color="#002bff"/><stop offset="0.522" stop-color="#0001ff"/><stop offset="0.560" stop-color="#4700ff"/><stop offset="0.597" stop-color="#6a00fe"/><stop offset="0.711" stop-color="#7400d4"/><stop offset="1.000" stop-color="#64008d"/></linearGradient><linearGradient id="g56" x1="0" y1="0" x2="0" y2="1"><stop offset="0.000" stop-color="#ff8b00"/><stop offset="0.019" stop-color="#ffab00"/><stop offset="0.101" stop-color="#ffff00"/><stop offset="0.158" stop-color="#caff00"/><stop offset="0.215" stop-color="#88ff00"/><stop offset="0.291" stop-color="#05ff00"/><stop offset="0.297" stop-color="#00ff0c"/><stop offset="0.342" stop-color="#00ffae"/><stop offset="0.380" stop-color="#00fffa"/><stop offset="0.386" stop-color="#00f7ff"/><stop offset="0.418" stop-color="#00b6ff"/><stop offset="0.475" stop-color="#0030ff"/><stop offset="0.487" stop-color="#001cff"/><stop offset="0.519" stop-color="#0300ff"/><stop offset="0.551" stop-color="#4300ff"/><stop offset="0.589" stop-color="#6a00fe"/><stop offset="0.709" stop-color="#7400d3"/><stop offset="1.000" stop-color="#64008d"/></linearGradient><linearGradient id="g57" x1="0" y1="0" x2="0" y2="1"><stop offset="0.000" stop-color="#ff9800"/><stop offset="0.013" stop-color="#ffac00"/><stop offset="0.095" stop-color="#feff00"/><stop offset="0.146" stop-color="#cfff00"/><stop offset="0.210" stop-color="#87ff00"/><stop offset="0.286" stop-color="#06ff00"/><stop offset="0.292" stop-color="#00ff0c"/><stop offset="0.337" stop-color="#00ffae"/><stop offset="0.375" stop-color="#00fffb"/><stop offset="0.381" stop-color="#00f6ff"/><stop offset="0.413" stop-color="#00b5ff"/><stop offset="0.470" stop-color="#0031ff"/><stop offset="0.483" stop-color="#001dff"/><stop offset="0.514" stop-color="#0200ff"/><stop offset="0.546" stop-color="#4300ff"/><stop offset="0.584" stop-color="#6a00fe"/><stop offset="0.698" stop-color="#7400d4"/><stop offset="0.997" stop-color="#64008c"/></linearGradient><linearGradient id="g58" x1="0" y1="0" x2="0" y2="1"><stop offset="0.000" stop-color="#ffa700"/><stop offset="0.089" stop-color="#fcff00"/><stop offset="0.140" stop-color="#ceff00"/><stop offset="0.197" stop-color="#8dff00"/><stop offset="0.280" stop-color="#01ff00"/><stop offset="0.287" stop-color="#00ff15"/><stop offset="0.325" stop-color="#00ffa3"/><stop offset="0.369" stop-color="#00ffff"/><stop offset="0.401" stop-color="#00bfff"/><stop offset="0.465" stop-color="#002fff"/><stop offset="0.478" stop-color="#001cff"/><stop offset="0.510" stop-color="#0200ff"/><stop offset="0.541" stop-color="#4300ff"/><stop offset="0.580" stop-color="#6a00fe"/><stop offset="0.694" stop-color="#7400d4"/><stop offset="1.000" stop-color="#63008b"/></linearGradient><linearGradient id="g59" x1="0" y1="0" x2="0" y2="1"><stop offset="0.000" stop-color="#ffb300"/><stop offset="0.077" stop-color="#feff00"/><stop offset="0.128" stop-color="#d0ff00"/><stop offset="0.192" stop-color="#87ff00"/><stop offset="0.269" stop-color="#02ff00"/><stop offset="0.276" stop-color="#00ff13"/><stop offset="0.314" stop-color="#00ffa0"/><stop offset="0.321" stop-color="#00ffb1"/><stop offset="0.359" stop-color="#00fffc"/><stop offset="0.365" stop-color="#00f5ff"/><stop offset="0.455" stop-color="#0034ff"/><stop offset="0.474" stop-color="#0018ff"/><stop offset="0.500" stop-color="#0001ff"/><stop offset="0.538" stop-color="#4700ff"/><stop offset="0.577" stop-color="#6a00fd"/><stop offset="0.692" stop-color="#7400d3"/><stop offset="1.000" stop-color="#63008a"/></linearGradient><linearGradient id="g60" x1="0" y1="0" x2="0" y2="1"><stop offset="0.000" stop-color="#ffbc00"/><stop offset="0.071" stop-color="#fdff00"/><stop offset="0.122" stop-color="#cfff00"/><stop offset="0.186" stop-color="#84ff00"/><stop offset="0.264" stop-color="#00ff05"/><stop offset="0.309" stop-color="#00ffa8"/><stop offset="0.354" stop-color="#00feff"/><stop offset="0.450" stop-color="#0032ff"/><stop offset="0.463" stop-color="#001fff"/><stop offset="0.495" stop-color="#0001ff"/><stop offset="0.534" stop-color="#4700ff"/><stop offset="0.572" stop-color="#6a00fd"/><stop offset="0.688" stop-color="#7400d4"/><stop offset="0.997" stop-color="#63008a"/></linearGradient><linearGradient id="g61" x1="0" y1="0" x2="0" y2="1"><stop offset="0.000" stop-color="#ffc400"/><stop offset="0.058" stop-color="#fffd00"/><stop offset="0.116" stop-color="#cdff00"/><stop offset="0.174" stop-color="#8bff00"/><stop offset="0.252" stop-color="#04ff00"/><stop offset="0.258" stop-color="#00ff0f"/><stop offset="0.303" stop-color="#00ffad"/><stop offset="0.348" stop-color="#00fbff"/><stop offset="0.445" stop-color="#0030ff"/><stop offset="0.490" stop-color="#0001ff"/><stop offset="0.529" stop-color="#4700ff"/><stop offset="0.568" stop-color="#6a00fd"/><stop offset="0.684" stop-color="#7400d4"/><stop offset="1.000" stop-color="#620088"/></linearGradient><linearGradient id="g62" x1="0" y1="0" x2="0" y2="1"><stop offset="0.000" stop-color="#ffcc00"/><stop offset="0.052" stop-color="#fffe00"/><stop offset="0.110" stop-color="#ccff00"/><stop offset="0.168" stop-color="#89ff00"/><stop offset="0.246" stop-color="#00ff01"/><stop offset="0.291" stop-color="#00ffa1"/><stop offset="0.337" stop-color="#00fffb"/><stop offset="0.343" stop-color="#00f7ff"/><stop offset="0.440" stop-color="#002fff"/><stop offset="0.485" stop-color="#0000ff"/><stop offset="0.524" stop-color="#4700ff"/><stop offset="0.563" stop-color="#6a00fe"/><stop offset="0.680" stop-color="#7400d4"/><stop offset="0.997" stop-color="#620088"/></linearGradient><linearGradient id="g63" x1="0" y1="0" x2="0" y2="1"><stop offset="0.000" stop-color="#ffd400"/><stop offset="0.045" stop-color="#feff00"/><stop offset="0.104" stop-color="#cbff00"/><stop offset="0.162" stop-color="#87ff00"/><stop offset="0.234" stop-color="#06ff00"/><stop offset="0.240" stop-color="#00ff0b"/><stop offset="0.286" stop-color="#00ffa9"/><stop offset="0.331" stop-color="#00fffe"/><stop offset="0.435" stop-color="#002eff"/><stop offset="0.481" stop-color="#0000ff"/><stop offset="0.519" stop-color="#4700ff"/><stop offset="0.558" stop-color="#6a00fe"/><stop offset="0.675" stop-color="#7400d4"/><stop offset="1.000" stop-color="#610086"/></linearGradient><linearGradient id="g64" x1="0" y1="0" x2="0" y2="1"><stop offset="0.000" stop-color="#ffdc00"/><stop offset="0.039" stop-color="#fdff00"/><stop offset="0.098" stop-color="#c9ff00"/><stop offset="0.156" stop-color="#84ff00"/><stop offset="0.228" stop-color="#01ff00"/><stop offset="0.235" stop-color="#00ff14"/><stop offset="0.280" stop-color="#00ffae"/><stop offset="0.326" stop-color="#00fcff"/><stop offset="0.430" stop-color="#002dff"/><stop offset="0.476" stop-color="#0100ff"/><stop offset="0.515" stop-color="#4700ff"/><stop offset="0.554" stop-color="#6a00fe"/><stop offset="0.671" stop-color="#7400d4"/><stop offset="0.997" stop-color="#610086"/></linearGradient><linearGradient id="g65" x1="0" y1="0" x2="0" y2="1"><stop offset="0.000" stop-color="#ffe000"/><stop offset="0.033" stop-color="#ffff00"/><stop offset="0.091" stop-color="#ccff00"/><stop offset="0.150" stop-color="#87ff00"/><stop offset="0.221" stop-color="#02ff00"/><stop offset="0.228" stop-color="#00ff12"/><stop offset="0.274" stop-color="#00ffac"/><stop offset="0.319" stop-color="#00feff"/><stop offset="0.423" stop-color="#0030ff"/><stop offset="0.469" stop-color="#0002ff"/><stop offset="0.508" stop-color="#4400ff"/><stop offset="0.547" stop-color="#6a00ff"/><stop offset="0.671" stop-color="#7400d3"/><stop offset="0.997" stop-color="#610085"/></linearGradient><linearGradient id="g66" x1="0" y1="0" x2="0" y2="1"><stop offset="0.000" stop-color="#ffe800"/><stop offset="0.026" stop-color="#fdff00"/><stop offset="0.085" stop-color="#caff00"/><stop offset="0.137" stop-color="#8dff00"/><stop offset="0.216" stop-color="#00ff05"/><stop offset="0.261" stop-color="#00ffa0"/><stop offset="0.314" stop-color="#00fbff"/><stop offset="0.418" stop-color="#002fff"/><stop offset="0.464" stop-color="#0002ff"/><stop offset="0.503" stop-color="#4400ff"/><stop offset="0.542" stop-color="#6a00ff"/><stop offset="0.667" stop-color="#7400d3"/><stop offset="1.000" stop-color="#610084"/></linearGradient><linearGradient id="g67" x1="0" y1="0" x2="0" y2="1"><stop offset="0.000" stop-color="#fff000"/><stop offset="0.020" stop-color="#fcff00"/><stop offset="0.072" stop-color="#cfff00"/><stop offset="0.132" stop-color="#8bff00"/><stop offset="0.204" stop-color="#05ff00"/><stop offset="0.211" stop-color="#00ff0e"/><stop offset="0.257" stop-color="#00ffa8"/><stop offset="0.303" stop-color="#00fffb"/><stop offset="0.309" stop-color="#00f7ff"/><stop offset="0.414" stop-color="#002eff"/><stop offset="0.461" stop-color="#0001ff"/><stop offset="0.500" stop-color="#4400ff"/><stop offset="0.539" stop-color="#6900ff"/><stop offset="0.664" stop-color="#7400d3"/><stop offset="1.000" stop-color="#610084"/></linearGradient><linearGradient id="g68" x1="0" y1="0" x2="0" y2="1"><stop offset="0.000" stop-color="#fff400"/><stop offset="0.013" stop-color="#feff00"/><stop offset="0.072" stop-color="#cbff00"/><stop offset="0.125" stop-color="#8dff00"/><stop offset="0.197" stop-color="#06ff00"/><stop offset="0.204" stop-color="#00ff0c"/><stop offset="0.250" stop-color="#00ffa4"/><stop offset="0.303" stop-color="#00faff"/><stop offset="0.408" stop-color="#0032ff"/><stop offset="0.428" stop-color="#001aff"/><stop offset="0.461" stop-color="#0400ff"/><stop offset="0.500" stop-color="#4700ff"/><stop offset="0.539" stop-color="#6a00fe"/><stop offset="0.658" stop-color="#7400d4"/><stop offset="1.000" stop-color="#610084"/></linearGradient><linearGradient id="g69" x1="0" y1="0" x2="0" y2="1"><stop offset="0.000" stop-color="#fffc00"/><stop offset="0.066" stop-color="#caff00"/><stop offset="0.119" stop-color="#8bff00"/><stop offset="0.191" stop-color="#01ff00"/><stop offset="0.244" stop-color="#00ffab"/><stop offset="0.290" stop-color="#00fffc"/><stop offset="0.297" stop-color="#00f6ff"/><stop offset="0.403" stop-color="#0030ff"/><stop offset="0.455" stop-color="#0500ff"/><stop offset="0.495" stop-color="#4700ff"/><stop offset="0.535" stop-color="#6a00fe"/><stop offset="0.653" stop-color="#7400d4"/><stop offset="0.997" stop-color="#610084"/></linearGradient><linearGradient id="g70" x1="0" y1="0" x2="0" y2="1"><stop offset="0.000" stop-color="#fbff00"/><stop offset="0.060" stop-color="#c8ff00"/><stop offset="0.113" stop-color="#89ff00"/><stop offset="0.179" stop-color="#08ff00"/><stop offset="0.185" stop-color="#00ff08"/><stop offset="0.238" stop-color="#00ffaf"/><stop offset="0.285" stop-color="#00ffff"/><stop offset="0.397" stop-color="#002fff"/><stop offset="0.450" stop-color="#0500ff"/><stop offset="0.483" stop-color="#3f00ff"/><stop offset="0.530" stop-color="#6a00fe"/><stop offset="0.656" stop-color="#7400d3"/><stop offset="1.000" stop-color="#600084"/></linearGradient><linearGradient id="g71" x1="0" y1="0" x2="0" y2="1"><stop offset="0.000" stop-color="#f7ff00"/><stop offset="0.053" stop-color="#cbff00"/><stop offset="0.106" stop-color="#8bff00"/><stop offset="0.172" stop-color="#09ff00"/><stop offset="0.179" stop-color="#00ff06"/><stop offset="0.232" stop-color="#00ffad"/><stop offset="0.278" stop-color="#00fffd"/><stop offset="0.285" stop-color="#00f5ff"/><stop offset="0.391" stop-color="#0033ff"/><stop offset="0.444" stop-color="#0000ff"/><stop offset="0.483" stop-color="#4500ff"/><stop offset="0.530" stop-color="#6a00fd"/><stop offset="0.649" stop-color="#7400d4"/><stop offset="0.887" stop-color="#680098"/><stop offset="1.000" stop-color="#600084"/></linearGradient><linearGradient id="g72" x1="0" y1="0" x2="0" y2="1"><stop offset="0.000" stop-color="#f0ff00"/><stop offset="0.047" stop-color="#c9ff00"/><stop offset="0.100" stop-color="#89ff00"/><stop offset="0.166" stop-color="#04ff00"/><stop offset="0.173" stop-color="#00ff0f"/><stop offset="0.219" stop-color="#00ffa3"/><stop offset="0.272" stop-color="#00fdff"/><stop offset="0.339" stop-color="#0080ff"/><stop offset="0.385" stop-color="#0031ff"/><stop offset="0.439" stop-color="#0100ff"/><stop offset="0.478" stop-color="#4500ff"/><stop offset="0.525" stop-color="#6a00fd"/><stop offset="0.645" stop-color="#7400d4"/><stop offset="0.884" stop-color="#680098"/><stop offset="0.997" stop-color="#600084"/></linearGradient><linearGradient id="g73" x1="0" y1="0" x2="0" y2="1"><stop offset="0.000" stop-color="#edff00"/><stop offset="0.040" stop-color="#cbff00"/><stop offset="0.093" stop-color="#8bff00"/><stop offset="0.159" stop-color="#05ff00"/><stop offset="0.166" stop-color="#00ff0d"/><stop offset="0.219" stop-color="#00ffb0"/><stop offset="0.266" stop-color="#00fffe"/><stop offset="0.332" stop-color="#0083ff"/><stop offset="0.379" stop-color="#0035ff"/><stop offset="0.432" stop-color="#0002ff"/><stop offset="0.472" stop-color="#4000ff"/><stop offset="0.518" stop-color="#6a00ff"/><stop offset="0.645" stop-color="#7400d3"/><stop offset="0.963" stop-color="#610085"/><stop offset="0.997" stop-color="#600083"/></linearGradient><linearGradient id="g74" x1="0" y1="0" x2="0" y2="1"><stop offset="0.000" stop-color="#e6ff00"/><stop offset="0.033" stop-color="#caff00"/><stop offset="0.087" stop-color="#89ff00"/><stop offset="0.153" stop-color="#00ff00"/><stop offset="0.207" stop-color="#00ffa7"/><stop offset="0.260" stop-color="#00fcff"/><stop offset="0.327" stop-color="#0080ff"/><stop offset="0.373" stop-color="#0034ff"/><stop offset="0.427" stop-color="#0001ff"/><stop offset="0.467" stop-color="#4000ff"/><stop offset="0.513" stop-color="#6a00ff"/><stop offset="0.640" stop-color="#7400d3"/><stop offset="0.960" stop-color="#610085"/><stop offset="1.000" stop-color="#600083"/></linearGradient><linearGradient id="g75" x1="0" y1="0" x2="0" y2="1"><stop offset="0.000" stop-color="#e2ff00"/><stop offset="0.027" stop-color="#ccff00"/><stop offset="0.080" stop-color="#8bff00"/><stop offset="0.147" stop-color="#01ff00"/><stop offset="0.200" stop-color="#00ffa4"/><stop offset="0.253" stop-color="#00ffff"/><stop offset="0.320" stop-color="#0084ff"/><stop offset="0.367" stop-color="#0038ff"/><stop offset="0.393" stop-color="#0019ff"/><stop offset="0.427" stop-color="#0300ff"/><stop offset="0.467" stop-color="#4500ff"/><stop offset="0.513" stop-color="#6a00fe"/><stop offset="0.633" stop-color="#7400d4"/><stop offset="0.953" stop-color="#610085"/><stop offset="1.000" stop-color="#600083"/></linearGradient><linearGradient id="g76" x1="0" y1="0" x2="0" y2="1"><stop offset="0.000" stop-color="#deff00"/><stop offset="0.027" stop-color="#c7ff00"/><stop offset="0.074" stop-color="#8dff00"/><stop offset="0.140" stop-color="#02ff00"/><stop offset="0.201" stop-color="#00ffb0"/><stop offset="0.247" stop-color="#00fffd"/><stop offset="0.254" stop-color="#00f6ff"/><stop offset="0.321" stop-color="#007bff"/><stop offset="0.368" stop-color="#0031ff"/><stop offset="0.421" stop-color="#0001ff"/><stop offset="0.462" stop-color="#4000ff"/><stop offset="0.508" stop-color="#6a00ff"/><stop offset="0.635" stop-color="#7400d3"/><stop offset="0.950" stop-color="#610086"/><stop offset="0.997" stop-color="#600083"/></linearGradient><linearGradient id="g77" x1="0" y1="0" x2="0" y2="1"><stop offset="0.000" stop-color="#daff00"/><stop offset="0.040" stop-color="#b3ff00"/><stop offset="0.074" stop-color="#85ff00"/><stop offset="0.134" stop-color="#03ff00"/><stop offset="0.194" stop-color="#00ffaf"/><stop offset="0.241" stop-color="#00fffb"/><stop offset="0.247" stop-color="#00f8ff"/><stop offset="0.314" stop-color="#007eff"/><stop offset="0.361" stop-color="#0035ff"/><stop offset="0.381" stop-color="#001eff"/><stop offset="0.421" stop-color="#0500ff"/><stop offset="0.462" stop-color="#4500ff"/><stop offset="0.508" stop-color="#6a00fe"/><stop offset="0.629" stop-color="#7400d4"/><stop offset="0.943" stop-color="#610086"/><stop offset="0.997" stop-color="#600083"/></linearGradient><linearGradient id="g78" x1="0" y1="0" x2="0" y2="1"><stop offset="0.000" stop-color="#d4ff00"/><stop offset="0.060" stop-color="#8dff00"/><stop offset="0.128" stop-color="#00ff04"/><stop offset="0.181" stop-color="#00ffa6"/><stop offset="0.235" stop-color="#00fffe"/><stop offset="0.242" stop-color="#00f5ff"/><stop offset="0.309" stop-color="#007bff"/><stop offset="0.356" stop-color="#0034ff"/><stop offset="0.416" stop-color="#0500ff"/><stop offset="0.456" stop-color="#4500ff"/><stop offset="0.503" stop-color="#6a00fe"/><stop offset="0.624" stop-color="#7400d4"/><stop offset="0.866" stop-color="#680097"/><stop offset="0.946" stop-color="#610085"/><stop offset="1.000" stop-color="#600083"/></linearGradient><linearGradient id="g79" x1="0" y1="0" x2="0" y2="1"><stop offset="0.000" stop-color="#d0ff00"/><stop offset="0.034" stop-color="#acff00"/><stop offset="0.060" stop-color="#85ff00"/><stop offset="0.121" stop-color="#00ff02"/><stop offset="0.174" stop-color="#00ffa3"/><stop offset="0.228" stop-color="#00fffc"/><stop offset="0.235" stop-color="#00f7ff"/><stop offset="0.302" stop-color="#007eff"/><stop offset="0.349" stop-color="#0037ff"/><stop offset="0.409" stop-color="#0100ff"/><stop offset="0.450" stop-color="#4100ff"/><stop offset="0.497" stop-color="#6a00ff"/><stop offset="0.624" stop-color="#7400d4"/><stop offset="0.859" stop-color="#680098"/><stop offset="0.940" stop-color="#610085"/><stop offset="1.000" stop-color="#600082"/></linearGradient><linearGradient id="g80" x1="0" y1="0" x2="0" y2="1"><stop offset="0.000" stop-color="#ccff00"/><stop offset="0.054" stop-color="#89ff00"/><stop offset="0.114" stop-color="#00ff00"/><stop offset="0.174" stop-color="#00ffaf"/><stop offset="0.221" stop-color="#00fffa"/><stop offset="0.228" stop-color="#00f9ff"/><stop offset="0.295" stop-color="#0081ff"/><stop offset="0.349" stop-color="#0031ff"/><stop offset="0.403" stop-color="#0002ff"/><stop offset="0.450" stop-color="#4500ff"/><stop offset="0.497" stop-color="#6a00fe"/><stop offset="0.617" stop-color="#7400d5"/><stop offset="0.859" stop-color="#680097"/><stop offset="0.933" stop-color="#610085"/><stop offset="1.000" stop-color="#600082"/></linearGradient><linearGradient id="g81" x1="0" y1="0" x2="0" y2="1"><stop offset="0.000" stop-color="#c4ff00"/><stop offset="0.047" stop-color="#85ff00"/><stop offset="0.101" stop-color="#09ff00"/><stop offset="0.108" stop-color="#00ff08"/><stop offset="0.162" stop-color="#00ffa7"/><stop offset="0.215" stop-color="#00fffd"/><stop offset="0.222" stop-color="#00f6ff"/><stop offset="0.290" stop-color="#007eff"/><stop offset="0.343" stop-color="#0030ff"/><stop offset="0.397" stop-color="#0002ff"/><stop offset="0.444" stop-color="#4500ff"/><stop offset="0.492" stop-color="#6a00fe"/><stop offset="0.613" stop-color="#7400d5"/><stop offset="0.855" stop-color="#680097"/><stop offset="0.929" stop-color="#610085"/><stop offset="0.997" stop-color="#600082"/></linearGradient><linearGradient id="g82" x1="0" y1="0" x2="0" y2="1"><stop offset="0.000" stop-color="#bfff00"/><stop offset="0.040" stop-color="#88ff00"/><stop offset="0.094" stop-color="#0bff00"/><stop offset="0.101" stop-color="#00ff06"/><stop offset="0.155" stop-color="#00ffa4"/><stop offset="0.209" stop-color="#00fffb"/><stop offset="0.215" stop-color="#00f8ff"/><stop offset="0.283" stop-color="#0081ff"/><stop offset="0.337" stop-color="#0033ff"/><stop offset="0.397" stop-color="#0300ff"/><stop offset="0.438" stop-color="#4100ff"/><stop offset="0.492" stop-color="#6a00fd"/><stop offset="0.613" stop-color="#7400d4"/><stop offset="0.923" stop-color="#610085"/><stop offset="0.997" stop-color="#600082"/></linearGradient><linearGradient id="g83" x1="0" y1="0" x2="0" y2="1"><stop offset="0.000" stop-color="#baff00"/><stop offset="0.034" stop-color="#8bff00"/><stop offset="0.095" stop-color="#00ff05"/><stop offset="0.149" stop-color="#00ffa1"/><stop offset="0.209" stop-color="#00fbff"/><stop offset="0.277" stop-color="#0085ff"/><stop offset="0.331" stop-color="#0037ff"/><stop offset="0.392" stop-color="#0001ff"/><stop offset="0.439" stop-color="#4500ff"/><stop offset="0.486" stop-color="#6a00fe"/><stop offset="0.615" stop-color="#7400d3"/><stop offset="0.919" stop-color="#610086"/><stop offset="1.000" stop-color="#600082"/></linearGradient><linearGradient id="g84" x1="0" y1="0" x2="0" y2="1"><stop offset="0.000" stop-color="#b0ff00"/><stop offset="0.027" stop-color="#88ff00"/><stop offset="0.081" stop-color="#06ff00"/><stop offset="0.088" stop-color="#00ff0c"/><stop offset="0.142" stop-color="#00ffa8"/><stop offset="0.197" stop-color="#00fffc"/><stop offset="0.203" stop-color="#00f7ff"/><stop offset="0.271" stop-color="#0081ff"/><stop offset="0.325" stop-color="#0035ff"/><stop offset="0.386" stop-color="#0001ff"/><stop offset="0.434" stop-color="#4600ff"/><stop offset="0.481" stop-color="#6a00fe"/><stop offset="0.610" stop-color="#7400d3"/><stop offset="0.915" stop-color="#610085"/><stop offset="0.997" stop-color="#600082"/></linearGradient><linearGradient id="g85" x1="0" y1="0" x2="0" y2="1"><stop offset="0.000" stop-color="#a9ff00"/><stop offset="0.020" stop-color="#8aff00"/><stop offset="0.075" stop-color="#0aff00"/><stop offset="0.082" stop-color="#00ff08"/><stop offset="0.136" stop-color="#00ffa5"/><stop offset="0.190" stop-color="#00fffb"/><stop offset="0.197" stop-color="#00f8ff"/><stop offset="0.265" stop-color="#0084ff"/><stop offset="0.327" stop-color="#002fff"/><stop offset="0.388" stop-color="#0500ff"/><stop offset="0.429" stop-color="#4400ff"/><stop offset="0.476" stop-color="#6a00fe"/><stop offset="0.605" stop-color="#7400d4"/><stop offset="0.912" stop-color="#610086"/><stop offset="1.000" stop-color="#600082"/></linearGradient><linearGradient id="g86" x1="0" y1="0" x2="0" y2="1"><stop offset="0.000" stop-color="#a1ff00"/><stop offset="0.021" stop-color="#7fff00"/><stop offset="0.076" stop-color="#00ff04"/><stop offset="0.132" stop-color="#00ffa2"/><stop offset="0.194" stop-color="#00faff"/><stop offset="0.271" stop-color="#007bff"/><stop offset="0.326" stop-color="#0032ff"/><stop offset="0.389" stop-color="#0100ff"/><stop offset="0.431" stop-color="#4100ff"/><stop offset="0.479" stop-color="#6a00ff"/><stop offset="0.618" stop-color="#7400d3"/><stop offset="0.931" stop-color="#610085"/><stop offset="1.000" stop-color="#600082"/></linearGradient><linearGradient id="g87" x1="0" y1="0" x2="0" y2="1"><stop offset="0.000" stop-color="#99ff00"/><stop offset="0.014" stop-color="#82ff00"/><stop offset="0.072" stop-color="#00ff01"/><stop offset="0.136" stop-color="#00ffae"/><stop offset="0.194" stop-color="#00fbff"/><stop offset="0.272" stop-color="#007dff"/><stop offset="0.330" stop-color="#0035ff"/><stop offset="0.394" stop-color="#0001ff"/><stop offset="0.444" stop-color="#4700ff"/><stop offset="0.487" stop-color="#6a00ff"/><stop offset="0.631" stop-color="#7400d4"/><stop offset="0.953" stop-color="#610086"/><stop offset="0.996" stop-color="#600083"/></linearGradient><linearGradient id="g88" x1="0" y1="0" x2="0" y2="1"><stop offset="0.000" stop-color="#8bff00"/><stop offset="0.059" stop-color="#0bff00"/><stop offset="0.067" stop-color="#00ff07"/><stop offset="0.126" stop-color="#00ffa5"/><stop offset="0.186" stop-color="#00fffc"/><stop offset="0.193" stop-color="#00f7ff"/><stop offset="0.268" stop-color="#0085ff"/><stop offset="0.335" stop-color="#0033ff"/><stop offset="0.401" stop-color="#0001ff"/><stop offset="0.446" stop-color="#4000ff"/><stop offset="0.498" stop-color="#6a00fe"/><stop offset="0.647" stop-color="#7400d3"/><stop offset="0.996" stop-color="#610084"/></linearGradient><linearGradient id="g89" x1="0" y1="0" x2="0" y2="1"><stop offset="0.000" stop-color="#80ff00"/><stop offset="0.062" stop-color="#00ff03"/><stop offset="0.124" stop-color="#00ffa2"/><stop offset="0.185" stop-color="#00fffa"/><stop offset="0.193" stop-color="#00f9ff"/><stop offset="0.278" stop-color="#007cff"/><stop offset="0.340" stop-color="#0036ff"/><stop offset="0.417" stop-color="#0500ff"/><stop offset="0.463" stop-color="#4600ff"/><stop offset="0.510" stop-color="#6a00ff"/><stop offset="0.664" stop-color="#7400d4"/><stop offset="0.996" stop-color="#630089"/></linearGradient><linearGradient id="g90" x1="0" y1="0" x2="0" y2="1"><stop offset="0.000" stop-color="#73ff00"/><stop offset="0.056" stop-color="#01ff00"/><stop offset="0.128" stop-color="#00ffaf"/><stop offset="0.192" stop-color="#00faff"/><stop offset="0.280" stop-color="#007eff"/><stop offset="0.344" stop-color="#0038ff"/><stop offset="0.424" stop-color="#0000ff"/><stop offset="0.472" stop-color="#4400ff"/><stop offset="0.520" stop-color="#6a00ff"/><stop offset="0.688" stop-color="#7400d3"/><stop offset="1.000" stop-color="#65008f"/></linearGradient><linearGradient id="g91" x1="0" y1="0" x2="0" y2="1"><stop offset="0.000" stop-color="#66ff00"/><stop offset="0.050" stop-color="#04ff00"/><stop offset="0.125" stop-color="#00ffad"/><stop offset="0.192" stop-color="#00fcff"/><stop offset="0.283" stop-color="#0080ff"/><stop offset="0.358" stop-color="#0032ff"/><stop offset="0.433" stop-color="#0002ff"/><stop offset="0.483" stop-color="#4100ff"/><stop offset="0.533" stop-color="#6900ff"/><stop offset="0.708" stop-color="#7400d4"/><stop offset="1.000" stop-color="#680097"/></linearGradient><linearGradient id="g92" x1="0" y1="0" x2="0" y2="1"><stop offset="0.000" stop-color="#51ff00"/><stop offset="0.044" stop-color="#00ff01"/><stop offset="0.114" stop-color="#00ffa2"/><stop offset="0.183" stop-color="#00fffc"/><stop offset="0.192" stop-color="#00f8ff"/><stop offset="0.288" stop-color="#007dff"/><stop offset="0.367" stop-color="#0031ff"/><stop offset="0.445" stop-color="#0001ff"/><stop offset="0.498" stop-color="#4300ff"/><stop offset="0.550" stop-color="#6a00ff"/><stop offset="0.734" stop-color="#7400d4"/><stop offset="0.996" stop-color="#6a00a0"/></linearGradient><linearGradient id="g93" x1="0" y1="0" x2="0" y2="1"><stop offset="0.000" stop-color="#44ff00"/><stop offset="0.037" stop-color="#02ff00"/><stop offset="0.119" stop-color="#00ffaf"/><stop offset="0.183" stop-color="#00fffa"/><stop offset="0.192" stop-color="#00f9ff"/><stop offset="0.292" stop-color="#007fff"/><stop offset="0.374" stop-color="#0033ff"/><stop offset="0.466" stop-color="#0400ff"/><stop offset="0.511" stop-color="#4000ff"/><stop offset="0.566" stop-color="#6a00ff"/><stop offset="0.758" stop-color="#7400d5"/><stop offset="0.995" stop-color="#6b00a9"/></linearGradient><linearGradient id="g94" x1="0" y1="0" x2="0" y2="1"><stop offset="0.000" stop-color="#37ff00"/><stop offset="0.029" stop-color="#05ff00"/><stop offset="0.038" stop-color="#00ff0e"/><stop offset="0.114" stop-color="#00ffad"/><stop offset="0.190" stop-color="#00fbff"/><stop offset="0.305" stop-color="#0078ff"/><stop offset="0.390" stop-color="#002eff"/><stop offset="0.476" stop-color="#0000ff"/><stop offset="0.533" stop-color="#4600ff"/><stop offset="0.581" stop-color="#6900ff"/><stop offset="0.790" stop-color="#7400d4"/><stop offset="1.000" stop-color="#6d00b0"/></linearGradient><linearGradient id="g95" x1="0" y1="0" x2="0" y2="1"><stop offset="0.000" stop-color="#29ff00"/><stop offset="0.020" stop-color="#08ff00"/><stop offset="0.030" stop-color="#00ff0a"/><stop offset="0.110" stop-color="#00ffab"/><stop offset="0.190" stop-color="#00fcff"/><stop offset="0.310" stop-color="#007aff"/><stop offset="0.400" stop-color="#0030ff"/><stop offset="0.490" stop-color="#0002ff"/><stop offset="0.550" stop-color="#4400ff"/><stop offset="0.610" stop-color="#6a00fe"/><stop offset="0.820" stop-color="#7400d4"/><stop offset="1.000" stop-color="#6e00b7"/></linearGradient><linearGradient id="g96" x1="0" y1="0" x2="0" y2="1"><stop offset="0.000" stop-color="#14ff00"/><stop offset="0.011" stop-color="#03ff00"/><stop offset="0.021" stop-color="#00ff10"/><stop offset="0.106" stop-color="#00ffaf"/><stop offset="0.180" stop-color="#00fffb"/><stop offset="0.190" stop-color="#00f8ff"/><stop offset="0.307" stop-color="#0080ff"/><stop offset="0.413" stop-color="#002fff"/><stop offset="0.508" stop-color="#0002ff"/><stop offset="0.571" stop-color="#4600ff"/><stop offset="0.624" stop-color="#6a00ff"/><stop offset="0.857" stop-color="#7400d4"/><stop offset="0.995" stop-color="#7000bf"/></linearGradient><linearGradient id="g97" x1="0" y1="0" x2="0" y2="1"><stop offset="0.000" stop-color="#06ff00"/><stop offset="0.011" stop-color="#00ff0c"/><stop offset="0.101" stop-color="#00ffad"/><stop offset="0.191" stop-color="#00faff"/><stop offset="0.326" stop-color="#0079ff"/><stop offset="0.427" stop-color="#0031ff"/><stop offset="0.539" stop-color="#0300ff"/><stop offset="0.596" stop-color="#4300ff"/><stop offset="0.652" stop-color="#6900ff"/><stop offset="1.000" stop-color="#7100c6"/></linearGradient><linearGradient id="g98" x1="0" y1="0" x2="0" y2="1"><stop offset="0.000" stop-color="#00ff09"/><stop offset="0.096" stop-color="#00ffac"/><stop offset="0.193" stop-color="#00fbff"/><stop offset="0.337" stop-color="#007bff"/><stop offset="0.458" stop-color="#002dff"/><stop offset="0.566" stop-color="#0001ff"/><stop offset="0.627" stop-color="#3f00ff"/><stop offset="0.687" stop-color="#6800ff"/><stop offset="1.000" stop-color="#7300cf"/></linearGradient><linearGradient id="g99" x1="0" y1="0" x2="0" y2="1"><stop offset="0.000" stop-color="#00ff24"/><stop offset="0.092" stop-color="#00ffaf"/><stop offset="0.183" stop-color="#00fffc"/><stop offset="0.196" stop-color="#00f7ff"/><stop offset="0.353" stop-color="#0079ff"/><stop offset="0.471" stop-color="#0032ff"/><stop offset="0.601" stop-color="#0000ff"/><stop offset="0.667" stop-color="#4200ff"/><stop offset="0.732" stop-color="#6a00ff"/><stop offset="0.993" stop-color="#7300da"/></linearGradient><linearGradient id="g100" x1="0" y1="0" x2="0" y2="1"><stop offset="0.000" stop-color="#00ff34"/><stop offset="0.086" stop-color="#00ffae"/><stop offset="0.187" stop-color="#00fffb"/><stop offset="0.201" stop-color="#00f9ff"/><stop offset="0.374" stop-color="#007aff"/><stop offset="0.518" stop-color="#002eff"/><stop offset="0.647" stop-color="#0002ff"/><stop offset="0.734" stop-color="#4900ff"/><stop offset="0.791" stop-color="#6900ff"/><stop offset="0.993" stop-color="#7000e5"/></linearGradient><linearGradient id="g101" x1="0" y1="0" x2="0" y2="1"><stop offset="0.000" stop-color="#00ff45"/><stop offset="0.080" stop-color="#00ffac"/><stop offset="0.208" stop-color="#00faff"/><stop offset="0.400" stop-color="#007cff"/><stop offset="0.560" stop-color="#0030ff"/><stop offset="0.608" stop-color="#0020ff"/><stop offset="0.720" stop-color="#0200ff"/><stop offset="0.800" stop-color="#4600ff"/><stop offset="0.864" stop-color="#6800ff"/><stop offset="0.992" stop-color="#6d00f1"/></linearGradient><linearGradient id="g102" x1="0" y1="0" x2="0" y2="1"><stop offset="0.000" stop-color="#00ff61"/><stop offset="0.072" stop-color="#00ffb0"/><stop offset="0.198" stop-color="#00fffe"/><stop offset="0.432" stop-color="#0079ff"/><stop offset="0.613" stop-color="#002fff"/><stop offset="0.775" stop-color="#0003ff"/><stop offset="0.793" stop-color="#0400ff"/><stop offset="0.883" stop-color="#4800ff"/><stop offset="0.955" stop-color="#6a00ff"/><stop offset="0.991" stop-color="#6b00fb"/></linearGradient><linearGradient id="g103" x1="0" y1="0" x2="0" y2="1"><stop offset="0.000" stop-color="#00ff72"/><stop offset="0.061" stop-color="#00ffae"/><stop offset="0.202" stop-color="#00fffd"/><stop offset="0.465" stop-color="#007bff"/><stop offset="0.667" stop-color="#0031ff"/><stop offset="0.869" stop-color="#0001ff"/><stop offset="0.990" stop-color="#4f00ff"/></linearGradient><linearGradient id="g104" x1="0" y1="0" x2="0" y2="1"><stop offset="0.000" stop-color="#00ff84"/><stop offset="0.047" stop-color="#00ffac"/><stop offset="0.209" stop-color="#00fffb"/><stop offset="0.233" stop-color="#00f8ff"/><stop offset="0.512" stop-color="#007cff"/><stop offset="0.767" stop-color="#002dff"/><stop offset="0.977" stop-color="#0002ff"/><stop offset="1.000" stop-color="#0700ff"/></linearGradient><linearGradient id="g105" x1="0" y1="0" x2="0" y2="1"><stop offset="0.000" stop-color="#00ffa0"/><stop offset="0.222" stop-color="#00feff"/><stop offset="0.556" stop-color="#0081ff"/><stop offset="0.861" stop-color="#0032ff"/><stop offset="1.000" stop-color="#0019ff"/></linearGradient><linearGradient id="g106" x1="0" y1="0" x2="0" y2="1"><stop offset="0.000" stop-color="#00ffaf"/><stop offset="0.237" stop-color="#00ffff"/><stop offset="0.644" stop-color="#0083ff"/><stop offset="0.983" stop-color="#003cff"/></linearGradient><linearGradient id="g107" x1="0" y1="0" x2="0" y2="1"><stop offset="0.000" stop-color="#00ffb8"/><stop offset="0.261" stop-color="#00fffd"/><stop offset="0.783" stop-color="#0085ff"/><stop offset="1.000" stop-color="#0060ff"/></linearGradient><linearGradient id="g108" x1="0" y1="0" x2="0" y2="1"><stop offset="0.000" stop-color="#00ffc8"/><stop offset="0.294" stop-color="#00fdff"/><stop offset="1.000" stop-color="#0081ff"/></linearGradient><linearGradient id="g109" x1="0" y1="0" x2="0" y2="1"><stop offset="0.000" stop-color="#00ffd2"/><stop offset="0.364" stop-color="#00feff"/><stop offset="1.000" stop-color="#00bbff"/></linearGradient><linearGradient id="g110" x1="0" y1="0" x2="0" y2="1"><stop offset="0.000" stop-color="#00ffdc"/><stop offset="0.545" stop-color="#00ffff"/><stop offset="0.909" stop-color="#00ecff"/></linearGradient></defs>
<rect x="148.0" y="163.0" width="3.4" height="6.5" fill="url(#g0)"/><rect x="151.0" y="160.5" width="3.4" height="10.5" fill="url(#g1)"/><rect x="154.0" y="158.5" width="3.4" height="13.5" fill="url(#g2)"/><rect x="157.0" y="156.0" width="3.4" height="17.5" fill="url(#g3)"/><rect x="160.0" y="153.5" width="3.4" height="21.0" fill="url(#g4)"/><rect x="163.0" y="151.0" width="3.4" height="25.0" fill="url(#g5)"/><rect x="166.0" y="148.5" width="3.4" height="28.5" fill="url(#g6)"/><rect x="169.0" y="146.0" width="3.4" height="32.5" fill="url(#g7)"/><rect x="172.0" y="143.5" width="3.4" height="36.0" fill="url(#g8)"/><rect x="175.0" y="141.0" width="3.4" height="39.5" fill="url(#g9)"/><rect x="178.0" y="138.0" width="3.4" height="43.5" fill="url(#g10)"/><rect x="181.0" y="135.5" width="3.4" height="47.0" fill="url(#g11)"/><rect x="184.0" y="132.5" width="3.4" height="51.0" fill="url(#g12)"/><rect x="187.0" y="129.5" width="3.4" height="55.0" fill="url(#g13)"/><rect x="190.0" y="126.5" width="3.4" height="59.0" fill="url(#g14)"/><rect x="193.0" y="122.0" width="3.4" height="64.5" fill="url(#g15)"/><rect x="196.0" y="117.0" width="3.4" height="70.5" fill="url(#g16)"/><rect x="199.0" y="109.5" width="3.4" height="79.5" fill="url(#g17)"/><rect x="202.0" y="101.5" width="3.4" height="88.5" fill="url(#g18)"/><rect x="205.0" y="93.5" width="3.4" height="97.5" fill="url(#g19)"/><rect x="208.0" y="86.5" width="3.4" height="105.5" fill="url(#g20)"/><rect x="211.0" y="79.0" width="3.4" height="114.0" fill="url(#g21)"/><rect x="214.0" y="71.5" width="3.4" height="122.5" fill="url(#g22)"/><rect x="217.0" y="64.0" width="3.4" height="131.0" fill="url(#g23)"/><rect x="220.0" y="56.5" width="3.4" height="139.5" fill="url(#g24)"/><rect x="223.0" y="49.0" width="3.4" height="148.0" fill="url(#g25)"/><rect x="226.0" y="41.5" width="3.4" height="156.5" fill="url(#g26)"/><rect x="229.0" y="33.5" width="3.4" height="166.0" fill="url(#g27)"/><rect x="232.0" y="26.0" width="3.4" height="174.5" fill="url(#g28)"/><rect x="235.0" y="18.0" width="3.4" height="183.5" fill="url(#g29)"/><rect x="238.0" y="13.5" width="3.4" height="189.0" fill="url(#g30)"/><rect x="241.0" y="14.0" width="3.4" height="190.0" fill="url(#g31)"/><rect x="244.0" y="17.5" width="3.4" height="187.5" fill="url(#g32)"/><rect x="247.0" y="21.0" width="3.4" height="185.0" fill="url(#g33)"/><rect x="250.0" y="24.5" width="3.4" height="182.5" fill="url(#g34)"/><rect x="253.0" y="27.5" width="3.4" height="181.0" fill="url(#g35)"/><rect x="256.0" y="30.5" width="3.4" height="179.0" fill="url(#g36)"/><rect x="259.0" y="33.5" width="3.4" height="177.0" fill="url(#g37)"/><rect x="262.0" y="36.5" width="3.4" height="175.0" fill="url(#g38)"/><rect x="265.0" y="39.0" width="3.4" height="173.5" fill="url(#g39)"/><rect x="268.0" y="41.5" width="3.4" height="172.0" fill="url(#g40)"/><rect x="271.0" y="43.5" width="3.4" height="171.0" fill="url(#g41)"/><rect x="274.0" y="45.5" width="3.4" height="170.0" fill="url(#g42)"/><rect x="277.0" y="47.5" width="3.4" height="169.0" fill="url(#g43)"/><rect x="280.0" y="49.5" width="3.4" height="168.0" fill="url(#g44)"/><rect x="283.0" y="51.5" width="3.4" height="167.0" fill="url(#g45)"/><rect x="286.0" y="53.5" width="3.4" height="166.0" fill="url(#g46)"/><rect x="289.0" y="55.5" width="3.4" height="165.0" fill="url(#g47)"/><rect x="292.0" y="57.5" width="3.4" height="164.0" fill="url(#g48)"/><rect x="295.0" y="59.5" width="3.4" height="163.0" fill="url(#g49)"/><rect x="298.0" y="61.5" width="3.4" height="162.5" fill="url(#g50)"/><rect x="301.0" y="63.0" width="3.4" height="162.0" fill="url(#g51)"/><rect x="304.0" y="65.0" width="3.4" height="161.0" fill="url(#g52)"/><rect x="307.0" y="66.5" width="3.4" height="160.5" fill="url(#g53)"/><rect x="310.0" y="68.0" width="3.4" height="160.0" fill="url(#g54)"/><rect x="313.0" y="69.5" width="3.4" height="159.0" fill="url(#g55)"/><rect x="316.0" y="71.5" width="3.4" height="158.0" fill="url(#g56)"/><rect x="319.0" y="73.0" width="3.4" height="157.5" fill="url(#g57)"/><rect x="322.0" y="74.5" width="3.4" height="157.0" fill="url(#g58)"/><rect x="325.0" y="76.5" width="3.4" height="156.0" fill="url(#g59)"/><rect x="328.0" y="78.0" width="3.4" height="155.5" fill="url(#g60)"/><rect x="331.0" y="79.5" width="3.4" height="155.0" fill="url(#g61)"/><rect x="334.0" y="81.0" width="3.4" height="154.5" fill="url(#g62)"/><rect x="337.0" y="82.5" width="3.4" height="154.0" fill="url(#g63)"/><rect x="340.0" y="84.0" width="3.4" height="153.5" fill="url(#g64)"/><rect x="343.0" y="85.0" width="3.4" height="153.5" fill="url(#g65)"/><rect x="346.0" y="86.5" width="3.4" height="153.0" fill="url(#g66)"/><rect x="349.0" y="88.0" width="3.4" height="152.0" fill="url(#g67)"/><rect x="352.0" y="89.0" width="3.4" height="152.0" fill="url(#g68)"/><rect x="355.0" y="90.5" width="3.4" height="151.5" fill="url(#g69)"/><rect x="358.0" y="92.0" width="3.4" height="151.0" fill="url(#g70)"/><rect x="361.0" y="93.0" width="3.4" height="151.0" fill="url(#g71)"/><rect x="364.0" y="94.5" width="3.4" height="150.5" fill="url(#g72)"/><rect x="367.0" y="95.5" width="3.4" height="150.5" fill="url(#g73)"/><rect x="370.0" y="97.0" width="3.4" height="150.0" fill="url(#g74)"/><rect x="373.0" y="98.0" width="3.4" height="150.0" fill="url(#g75)"/><rect x="376.0" y="99.0" width="3.4" height="149.5" fill="url(#g76)"/><rect x="379.0" y="100.0" width="3.4" height="149.5" fill="url(#g77)"/><rect x="382.0" y="101.5" width="3.4" height="149.0" fill="url(#g78)"/><rect x="385.0" y="102.5" width="3.4" height="149.0" fill="url(#g79)"/><rect x="388.0" y="103.5" width="3.4" height="149.0" fill="url(#g80)"/><rect x="391.0" y="105.0" width="3.4" height="148.5" fill="url(#g81)"/><rect x="394.0" y="106.0" width="3.4" height="148.5" fill="url(#g82)"/><rect x="397.0" y="107.0" width="3.4" height="148.0" fill="url(#g83)"/><rect x="400.0" y="108.5" width="3.4" height="147.5" fill="url(#g84)"/><rect x="403.0" y="109.5" width="3.4" height="147.0" fill="url(#g85)"/><rect x="406.0" y="110.5" width="3.4" height="144.0" fill="url(#g86)"/><rect x="409.0" y="111.5" width="3.4" height="139.5" fill="url(#g87)"/><rect x="412.0" y="113.0" width="3.4" height="134.5" fill="url(#g88)"/><rect x="415.0" y="114.0" width="3.4" height="129.5" fill="url(#g89)"/><rect x="418.0" y="115.0" width="3.4" height="125.0" fill="url(#g90)"/><rect x="421.0" y="116.0" width="3.4" height="120.0" fill="url(#g91)"/><rect x="424.0" y="117.5" width="3.4" height="114.5" fill="url(#g92)"/><rect x="427.0" y="118.5" width="3.4" height="109.5" fill="url(#g93)"/><rect x="430.0" y="119.5" width="3.4" height="105.0" fill="url(#g94)"/><rect x="433.0" y="120.5" width="3.4" height="100.0" fill="url(#g95)"/><rect x="436.0" y="122.0" width="3.4" height="94.5" fill="url(#g96)"/><rect x="439.0" y="123.0" width="3.4" height="89.0" fill="url(#g97)"/><rect x="442.0" y="124.0" width="3.4" height="83.0" fill="url(#g98)"/><rect x="445.0" y="125.5" width="3.4" height="76.5" fill="url(#g99)"/><rect x="448.0" y="126.5" width="3.4" height="69.5" fill="url(#g100)"/><rect x="451.0" y="127.5" width="3.4" height="62.5" fill="url(#g101)"/><rect x="454.0" y="129.0" width="3.4" height="55.5" fill="url(#g102)"/><rect x="457.0" y="130.0" width="3.4" height="49.5" fill="url(#g103)"/><rect x="460.0" y="131.0" width="3.4" height="43.0" fill="url(#g104)"/><rect x="463.0" y="132.5" width="3.4" height="36.0" fill="url(#g105)"/><rect x="466.0" y="133.5" width="3.4" height="29.5" fill="url(#g106)"/><rect x="469.0" y="134.5" width="3.4" height="23.0" fill="url(#g107)"/><rect x="472.0" y="136.0" width="3.4" height="17.0" fill="url(#g108)"/><rect x="475.0" y="137.0" width="3.4" height="11.0" fill="url(#g109)"/><rect x="478.0" y="138.0" width="3.4" height="5.5" fill="url(#g110)"/>
</g>
<path d="M149.5 178.8 L404.5 256.8" fill="none" stroke="#1a1a1a" stroke-width="1.1" />
<path d="M404.5 256.8 L477.0 169.0" fill="none" stroke="#1a1a1a" stroke-width="1.1" />
<path d="M477.0 169.0 L485.0 64.0" fill="none" stroke="#333" stroke-width="1.0" />
<line x1="149.50" y1="178.80" x2="146.96" y2="181.88" stroke="#1a1a1a" stroke-width="0.9" />
<line x1="161.41" y1="182.44" x2="159.95" y2="184.22" stroke="#1a1a1a" stroke-width="0.9" />
<line x1="169.96" y1="185.06" x2="168.50" y2="186.83" stroke="#1a1a1a" stroke-width="0.9" />
<line x1="176.65" y1="187.10" x2="175.18" y2="188.88" stroke="#1a1a1a" stroke-width="0.9" />
<line x1="182.14" y1="188.78" x2="180.68" y2="190.56" stroke="#1a1a1a" stroke-width="0.9" />
<line x1="186.82" y1="190.21" x2="185.35" y2="191.99" stroke="#1a1a1a" stroke-width="0.9" />
<line x1="190.88" y1="191.46" x2="189.42" y2="193.23" stroke="#1a1a1a" stroke-width="0.9" />
<line x1="194.48" y1="192.56" x2="193.02" y2="194.33" stroke="#1a1a1a" stroke-width="0.9" />
<line x1="197.72" y1="193.55" x2="196.25" y2="195.32" stroke="#1a1a1a" stroke-width="0.9" />
<line x1="219.27" y1="200.14" x2="216.72" y2="203.22" stroke="#1a1a1a" stroke-width="0.9" />
<line x1="232.10" y1="204.07" x2="230.64" y2="205.84" stroke="#1a1a1a" stroke-width="0.9" />
<line x1="241.31" y1="206.88" x2="239.85" y2="208.66" stroke="#1a1a1a" stroke-width="0.9" />
<line x1="248.51" y1="209.09" x2="247.05" y2="210.86" stroke="#1a1a1a" stroke-width="0.9" />
<line x1="254.44" y1="210.90" x2="252.98" y2="212.67" stroke="#1a1a1a" stroke-width="0.9" />
<line x1="259.48" y1="212.44" x2="258.02" y2="214.21" stroke="#1a1a1a" stroke-width="0.9" />
<line x1="263.87" y1="213.78" x2="262.40" y2="215.56" stroke="#1a1a1a" stroke-width="0.9" />
<line x1="267.75" y1="214.97" x2="266.29" y2="216.74" stroke="#1a1a1a" stroke-width="0.9" />
<line x1="271.24" y1="216.04" x2="269.78" y2="217.81" stroke="#1a1a1a" stroke-width="0.9" />
<line x1="294.50" y1="223.15" x2="291.96" y2="226.24" stroke="#1a1a1a" stroke-width="0.9" />
<line x1="308.37" y1="227.39" x2="306.90" y2="229.17" stroke="#1a1a1a" stroke-width="0.9" />
<line x1="318.32" y1="230.44" x2="316.86" y2="232.21" stroke="#1a1a1a" stroke-width="0.9" />
<line x1="326.11" y1="232.82" x2="324.65" y2="234.59" stroke="#1a1a1a" stroke-width="0.9" />
<line x1="332.52" y1="234.78" x2="331.05" y2="236.55" stroke="#1a1a1a" stroke-width="0.9" />
<line x1="337.97" y1="236.45" x2="336.50" y2="238.22" stroke="#1a1a1a" stroke-width="0.9" />
<line x1="342.71" y1="237.90" x2="341.25" y2="239.67" stroke="#1a1a1a" stroke-width="0.9" />
<line x1="346.92" y1="239.19" x2="345.45" y2="240.96" stroke="#1a1a1a" stroke-width="0.9" />
<line x1="350.69" y1="240.34" x2="349.23" y2="242.11" stroke="#1a1a1a" stroke-width="0.9" />
<line x1="375.88" y1="248.05" x2="373.33" y2="251.13" stroke="#1a1a1a" stroke-width="0.9" />
<line x1="390.90" y1="252.64" x2="389.44" y2="254.41" stroke="#1a1a1a" stroke-width="0.9" />
<line x1="401.69" y1="255.94" x2="400.23" y2="257.71" stroke="#1a1a1a" stroke-width="0.9" />
<line x1="469.46" y1="178.13" x2="471.66" y2="178.81" stroke="#1a1a1a" stroke-width="0.9" />
<line x1="462.94" y1="186.03" x2="465.13" y2="186.71" stroke="#1a1a1a" stroke-width="0.9" />
<line x1="457.93" y1="192.09" x2="460.13" y2="192.77" stroke="#1a1a1a" stroke-width="0.9" />
<line x1="453.58" y1="197.36" x2="455.78" y2="198.03" stroke="#1a1a1a" stroke-width="0.9" />
<line x1="449.16" y1="202.72" x2="451.36" y2="203.39" stroke="#1a1a1a" stroke-width="0.9" />
<line x1="444.99" y1="207.76" x2="447.19" y2="208.44" stroke="#1a1a1a" stroke-width="0.9" />
<line x1="442.93" y1="210.27" x2="445.12" y2="210.94" stroke="#1a1a1a" stroke-width="0.9" />
<line x1="440.86" y1="212.77" x2="443.06" y2="213.44" stroke="#1a1a1a" stroke-width="0.9" />
<line x1="438.79" y1="215.27" x2="440.99" y2="215.94" stroke="#1a1a1a" stroke-width="0.9" />
<line x1="436.73" y1="217.77" x2="438.93" y2="218.45" stroke="#1a1a1a" stroke-width="0.9" />
<line x1="434.66" y1="220.28" x2="436.86" y2="220.95" stroke="#1a1a1a" stroke-width="0.9" />
<line x1="432.59" y1="222.78" x2="434.79" y2="223.45" stroke="#1a1a1a" stroke-width="0.9" />
<line x1="430.53" y1="225.28" x2="432.73" y2="225.95" stroke="#1a1a1a" stroke-width="0.9" />
<line x1="428.46" y1="227.78" x2="430.66" y2="228.46" stroke="#1a1a1a" stroke-width="0.9" />
<line x1="424.39" y1="232.72" x2="426.59" y2="233.39" stroke="#1a1a1a" stroke-width="0.9" />
<line x1="422.38" y1="235.15" x2="424.58" y2="235.82" stroke="#1a1a1a" stroke-width="0.9" />
<line x1="420.37" y1="237.58" x2="422.57" y2="238.25" stroke="#1a1a1a" stroke-width="0.9" />
<line x1="418.36" y1="240.01" x2="420.56" y2="240.69" stroke="#1a1a1a" stroke-width="0.9" />
<line x1="416.35" y1="242.44" x2="418.55" y2="243.12" stroke="#1a1a1a" stroke-width="0.9" />
<line x1="414.35" y1="244.88" x2="416.54" y2="245.55" stroke="#1a1a1a" stroke-width="0.9" />
<line x1="412.34" y1="247.31" x2="414.54" y2="247.98" stroke="#1a1a1a" stroke-width="0.9" />
<line x1="410.33" y1="249.74" x2="412.53" y2="250.41" stroke="#1a1a1a" stroke-width="0.9" />
<line x1="408.32" y1="252.17" x2="410.52" y2="252.85" stroke="#1a1a1a" stroke-width="0.9" />
<line x1="447.06" y1="205.26" x2="450.88" y2="206.43" stroke="#1a1a1a" stroke-width="0.9" />
<line x1="426.39" y1="230.28" x2="430.22" y2="231.46" stroke="#1a1a1a" stroke-width="0.9" />
<line x1="406.31" y1="254.61" x2="410.14" y2="255.78" stroke="#1a1a1a" stroke-width="0.9" />
<line x1="477.61" y1="161.00" x2="481.61" y2="161.00" stroke="#333" stroke-width="1.0" />
<text x="485.0" y="168.3" font-size="15.5" fill="#111">0.2</text>
<line x1="479.46" y1="136.75" x2="483.46" y2="136.75" stroke="#333" stroke-width="1.0" />
<text x="486.1" y="145" font-size="15.5" fill="#111">0.4</text>
<line x1="481.30" y1="112.50" x2="485.30" y2="112.50" stroke="#333" stroke-width="1.0" />
<text x="487.8" y="120.7" font-size="15.5" fill="#111">0.6</text>
<line x1="483.15" y1="88.25" x2="487.15" y2="88.25" stroke="#333" stroke-width="1.0" />
<text x="488.9" y="96.6" font-size="15.5" fill="#111">0.8</text>
<line x1="485.00" y1="64.00" x2="489.00" y2="64.00" stroke="#333" stroke-width="1.0" />
<text x="489.7" y="72" font-size="15.5" fill="#111">1.0</text>
<text transform="translate(143.0,190.4) rotate(-45)" x="0" y="5.6" font-size="15.5" text-anchor="middle" fill="#111" >2</text>
<text transform="translate(208.0,217.3) rotate(-45)" x="0" y="5.6" font-size="15.5" text-anchor="middle" fill="#111" >20</text>
<text transform="translate(278.3,245.5) rotate(-45)" x="0" y="5.6" font-size="15.5" text-anchor="middle" fill="#111" >200</text>
<text transform="translate(360.0,275.9) rotate(-45)" x="0" y="5.6" font-size="15.5" text-anchor="middle" fill="#111" >2000</text>
<text transform="translate(456.0,211.5) rotate(-62)" x="0" y="5.6" font-size="15.5" text-anchor="middle" fill="#111" >1</text>
<text transform="translate(433.6,238.5) rotate(-62)" x="0" y="5.6" font-size="15.5" text-anchor="middle" fill="#111" >2</text>
<text transform="translate(420.5,254.8) rotate(-62)" x="0" y="5.6" font-size="15.5" text-anchor="middle" fill="#111" >3</text>
<text transform="translate(222.9,251.2) rotate(28)" x="0" y="5.6" font-size="15.5" text-anchor="middle" fill="#111" >Δ<tspan font-style="italic">t</tspan> (s)</text>
<text transform="translate(476.4,232.0) rotate(-64)" x="0" y="5.6" font-size="15.5" text-anchor="middle" fill="#111" >Δr (nm)</text>
<defs><linearGradient id="cb" x1="0" y1="0" x2="0" y2="1"><stop offset="0.0000" stop-color="#500000"/><stop offset="0.0459" stop-color="#6a0000"/><stop offset="0.0752" stop-color="#880000"/><stop offset="0.1054" stop-color="#a00000"/><stop offset="0.1347" stop-color="#b80000"/><stop offset="0.1649" stop-color="#d80000"/><stop offset="0.1931" stop-color="#f00000"/><stop offset="0.2140" stop-color="#ff0000"/><stop offset="0.3340" stop-color="#ff0000"/><stop offset="0.3559" stop-color="#ff2000"/><stop offset="0.3737" stop-color="#ff4000"/><stop offset="0.3914" stop-color="#ff6000"/><stop offset="0.4154" stop-color="#ff8800"/><stop offset="0.4332" stop-color="#ffaa00"/><stop offset="0.4593" stop-color="#ffc800"/><stop offset="0.5063" stop-color="#ffff00"/><stop offset="0.5585" stop-color="#ccff00"/><stop offset="0.6086" stop-color="#88ff00"/><stop offset="0.6712" stop-color="#00ff00"/><stop offset="0.7046" stop-color="#00ffaa"/><stop offset="0.7359" stop-color="#00ffff"/><stop offset="0.7735" stop-color="#00bbff"/><stop offset="0.8017" stop-color="#0080ff"/><stop offset="0.8299" stop-color="#0030ff"/><stop offset="0.8549" stop-color="#0000ff"/><stop offset="0.8873" stop-color="#4400ff"/><stop offset="0.9081" stop-color="#6a00ff"/><stop offset="0.9374" stop-color="#7400d4"/><stop offset="0.9656" stop-color="#680098"/><stop offset="1.0000" stop-color="#500058"/></linearGradient></defs>
<rect x="545" y="47.8" width="15" height="167.8" fill="url(#cb)"/>
<text x="563.2" y="61.8" font-size="16" fill="#111">1.0</text>
<text x="563.2" y="97.1" font-size="16" fill="#111">0.8</text>
<text x="563.2" y="132.4" font-size="16" fill="#111">0.6</text>
<text x="563.2" y="167.7" font-size="16" fill="#111">0.4</text>
<text x="563.2" y="203.0" font-size="16" fill="#111">0.2</text>
<text transform="translate(534.5,139) rotate(-90)" font-size="20" font-style="italic" fill="#111">G<tspan font-size="13.5" dy="4.5">4</tspan></text>
<path d="M8.5 338.5 V551.7 M339 551.7 V338.5" fill="none" stroke="#f0f0f0" stroke-width="1"/>
<path d="M8.5 551.7 H339" fill="none" stroke="#dddddd" stroke-width="1.2"/>
<rect x="171" y="549" width="51" height="5" fill="#fff"/>
<defs><clipPath id="bclip"><rect x="62.9" y="341.8" width="267.1" height="167.59999999999997"/></clipPath>
<mask id="bmask"><rect x="0" y="300" width="345" height="260" fill="#fff"/>
<rect x="258.7" y="386.6" width="23.8" height="11" fill="#000" transform="rotate(8 270.6 392.1)"/>
<rect x="237.7" y="442.4" width="18.2" height="11" fill="#000" transform="rotate(2 246.8 447.9)"/>
<rect x="176.9" y="458.7" width="23.8" height="11" fill="#000" transform="rotate(1 188.8 464.2)"/>
<rect x="205.9" y="471.4" width="18.2" height="11" fill="#000" transform="rotate(1 215 476.9)"/>
<rect x="224.0" y="477.0" width="23.8" height="11" fill="#000" transform="rotate(1 235.9 482.5)"/>
<rect x="197.9" y="482.2" width="18.2" height="11" fill="#000" transform="rotate(1 207 487.7)"/>
<rect x="221.9" y="488.4" width="23.8" height="11" fill="#000" transform="rotate(1 233.8 493.9)"/>
<rect x="180.2" y="492.0" width="18.2" height="11" fill="#000" transform="rotate(1 189.3 497.5)"/>
<rect x="155.9" y="496.0" width="23.8" height="11" fill="#000" transform="rotate(1 167.8 501.5)"/>
<rect x="118.9" y="497.7" width="18.2" height="11" fill="#000" transform="rotate(1 128 503.2)"/>
<rect x="63.2" y="496.5" width="18.2" height="11" fill="#000" transform="rotate(0 72.3 502.0)"/>
</mask></defs>
<g clip-path="url(#bclip)" mask="url(#bmask)" fill="none" stroke-width="1.45" stroke-linecap="round">
<path d="M98.8 342.6 C100.7 343.9 106.2 348.0 110.0 350.5 C113.8 353.0 116.0 355.0 121.3 357.5 C126.6 360.0 134.9 363.0 141.7 365.7 C148.5 368.4 155.4 371.6 162.2 373.8 C169.0 376.0 177.1 377.8 182.6 379.0 C188.1 380.2 189.5 380.0 195.0 381.0 C200.5 382.0 208.6 383.9 215.4 385.1 C222.2 386.4 229.1 387.5 235.9 388.5 C242.7 389.5 248.5 390.2 256.3 391.2 C264.1 392.2 274.4 393.6 282.9 394.7 C291.4 395.8 299.5 397.0 307.4 398.0 C315.2 399.0 326.2 400.3 330.0 400.8" stroke="#e9513d"/>
<path d="M64.1 347.7 C64.2 349.8 64.5 356.2 64.7 360.0 C64.9 363.8 64.9 367.4 65.1 370.7 C65.3 374.0 65.7 376.9 66.0 380.0 C66.3 383.1 66.5 385.4 67.2 389.0 C67.9 392.6 69.2 397.6 70.2 401.3 C71.2 405.1 71.9 408.4 73.3 411.5 C74.7 414.6 76.4 417.3 78.4 419.7 C80.4 422.1 82.6 424.0 85.5 425.8 C88.4 427.6 91.5 429.0 95.8 430.4 C100.1 431.8 105.4 432.9 111.1 434.0 C116.8 435.1 124.9 436.2 130.0 437.1 C135.1 438.0 136.3 438.3 141.7 439.2 C147.1 440.1 155.4 441.4 162.2 442.3 C169.0 443.2 176.3 443.8 182.6 444.3 C188.9 444.8 191.1 444.9 200.0 445.4 C208.9 445.8 226.5 446.6 235.9 447.0 C245.3 447.4 240.6 447.1 256.3 448.0 C272.0 448.9 317.7 451.4 330.0 452.1" stroke="#f0844f"/>
<path d="M64.5 428.0 C64.7 429.3 65.0 433.4 65.5 436.0 C66.0 438.6 66.1 441.1 67.2 443.3 C68.3 445.5 69.8 447.1 72.0 449.0 C74.2 450.9 77.4 453.2 80.4 454.6 C83.4 456.0 86.6 456.6 90.0 457.5 C93.4 458.4 95.7 459.0 100.9 459.7 C106.1 460.4 108.7 460.9 121.3 461.7 C133.9 462.4 163.4 463.7 176.5 464.2 C189.6 464.7 174.4 463.6 200.0 464.5 C225.6 465.4 308.3 469.0 330.0 469.9" stroke="#f3a94b"/>
<path d="M64.5 453.5 C64.8 454.4 65.0 457.3 66.0 459.0 C67.0 460.7 67.9 462.5 70.2 463.8 C72.5 465.1 76.6 466.0 80.0 466.8 C83.4 467.6 83.8 468.0 90.7 468.9 C97.6 469.8 103.1 471.1 121.3 472.3 C139.5 473.6 165.2 475.3 200.0 476.4 C234.8 477.5 308.3 478.7 330.0 479.1" stroke="#efdc4d"/>
<path d="M64.5 465.8 C64.8 466.6 65.0 469.1 66.0 470.5 C67.0 471.9 67.9 473.1 70.2 474.0 C72.5 474.9 71.5 475.2 80.0 476.0 C88.5 476.8 101.0 478.1 121.0 479.0 C141.0 479.9 165.2 480.6 200.0 481.7 C234.8 482.8 308.3 485.1 330.0 485.8" stroke="#d3ec55"/>
<path d="M64.5 474.5 C64.8 475.2 65.0 477.4 66.0 478.5 C67.0 479.6 67.9 480.2 70.2 481.0 C72.5 481.8 71.5 482.2 80.0 483.0 C88.5 483.8 101.0 484.7 121.0 485.5 C141.0 486.3 165.2 486.7 200.0 487.8 C234.8 488.9 308.3 491.3 330.0 492.0" stroke="#aae857"/>
<path d="M64.5 478.5 C64.8 479.2 65.0 481.3 66.0 482.5 C67.0 483.7 67.9 484.6 70.2 485.5 C72.5 486.4 71.5 487.0 80.0 487.8 C88.5 488.6 101.0 489.6 121.0 490.5 C141.0 491.4 165.2 491.8 200.0 493.0 C234.8 494.2 308.3 496.8 330.0 497.5" stroke="#80e15c"/>
<path d="M64.5 482.0 C64.8 482.7 65.0 484.8 66.0 486.0 C67.0 487.2 67.9 488.1 70.2 489.0 C72.5 489.9 71.5 490.6 80.0 491.5 C88.5 492.4 101.0 493.4 121.0 494.5 C141.0 495.6 165.2 496.6 200.0 498.0 C234.8 499.4 308.3 501.8 330.0 502.6" stroke="#5fda64"/>
<path d="M64.5 486.0 C64.8 486.7 65.0 488.8 66.0 490.0 C67.0 491.2 67.9 492.1 70.2 493.0 C72.5 493.9 71.5 494.5 80.0 495.5 C88.5 496.5 101.0 497.6 121.0 499.0 C141.0 500.4 165.2 502.6 200.0 504.0 C234.8 505.4 308.3 507.0 330.0 507.6" stroke="#47d47a"/>
<path d="M64.5 490.0 C64.8 490.6 65.0 492.4 66.0 493.5 C67.0 494.6 67.9 495.6 70.2 496.5 C72.5 497.4 71.5 497.8 80.0 499.0 C88.5 500.2 104.3 502.2 121.0 503.5 C137.7 504.8 163.8 506.1 180.0 507.0 C196.2 507.9 212.1 508.7 218.5 509.0" stroke="#35cf9e"/>
<path d="M64.5 494.0 C64.8 494.5 65.0 496.0 66.0 497.0 C67.0 498.0 67.9 499.1 70.2 500.0 C72.5 500.9 71.5 501.3 80.0 502.5 C88.5 503.7 107.7 505.9 121.0 507.0 C134.3 508.1 153.5 508.8 160.0 509.2" stroke="#30cbc8"/>
<path d="M64.5 498.0 C64.8 498.5 65.0 500.1 66.0 501.0 C67.0 501.9 67.9 502.7 70.2 503.5 C72.5 504.3 75.0 505.2 80.0 506.0 C85.0 506.8 93.3 508.0 100.0 508.5 C106.7 509.0 116.7 509.1 120.0 509.2" stroke="#37b1e6"/>
<path d="M64.5 502.0 C65.1 502.5 66.2 504.1 68.0 505.0 C69.8 505.9 71.3 506.8 75.0 507.5 C78.7 508.2 87.5 508.9 90.0 509.2" stroke="#3b80e8"/>
<path d="M64.5 505.0 C65.4 505.5 67.8 507.3 70.0 508.0 C72.2 508.7 76.7 509.0 78.0 509.2" stroke="#3b4fe0"/>
</g>
<text x="270.6" y="395.6" font-size="10.2" text-anchor="middle" fill="#333" font-style="italic" transform="rotate(8 270.6 392.1)">0.15</text>
<text x="246.8" y="451.4" font-size="10.2" text-anchor="middle" fill="#333" transform="rotate(2 246.8 447.9)">0.2</text>
<text x="188.8" y="467.7" font-size="10.2" text-anchor="middle" fill="#333" transform="rotate(1 188.8 464.2)">0.25</text>
<text x="215" y="480.4" font-size="10.2" text-anchor="middle" fill="#333" transform="rotate(1 215 476.9)">0.3</text>
<text x="235.9" y="486" font-size="10.2" text-anchor="middle" fill="#333" transform="rotate(1 235.9 482.5)">0.35</text>
<text x="207" y="491.2" font-size="10.2" text-anchor="middle" fill="#333" transform="rotate(1 207 487.7)">0.4</text>
<text x="233.8" y="497.4" font-size="10.2" text-anchor="middle" fill="#333" transform="rotate(1 233.8 493.9)">0.45</text>
<text x="189.3" y="501" font-size="10.2" text-anchor="middle" fill="#333" transform="rotate(1 189.3 497.5)">0.5</text>
<text x="167.8" y="505" font-size="10.2" text-anchor="middle" fill="#333" transform="rotate(1 167.8 501.5)">0.55</text>
<text x="128" y="506.7" font-size="10.2" text-anchor="middle" fill="#333" transform="rotate(1 128 503.2)">0.6</text>
<text x="72.3" y="505.5" font-size="10.2" text-anchor="middle" fill="#333" font-style="italic" transform="rotate(0 72.3 502.0)">0.7</text>
<rect x="62.9" y="341.8" width="267.1" height="167.59999999999997" fill="none" stroke="#777" stroke-width="1.3"/>
<line x1="56.30" y1="500.90" x2="62.90" y2="500.90" stroke="#444" stroke-width="1.2" />
<text x="53.3" y="505.5" font-size="13.3" text-anchor="end" fill="#333"  style="">0.5</text>
<line x1="56.30" y1="475.95" x2="62.90" y2="475.95" stroke="#444" stroke-width="1.2" />
<text x="53.3" y="480.6" font-size="13.3" text-anchor="end" fill="#333"  style="">1.0</text>
<line x1="56.30" y1="451.00" x2="62.90" y2="451.00" stroke="#444" stroke-width="1.2" />
<text x="53.3" y="455.6" font-size="13.3" text-anchor="end" fill="#333"  style="">1.5</text>
<line x1="56.30" y1="426.05" x2="62.90" y2="426.05" stroke="#444" stroke-width="1.2" />
<text x="53.3" y="430.6" font-size="13.3" text-anchor="end" fill="#333"  style="">2.0</text>
<line x1="56.30" y1="401.10" x2="62.90" y2="401.10" stroke="#444" stroke-width="1.2" />
<text x="53.3" y="405.7" font-size="13.3" text-anchor="end" fill="#333"  style="">2.5</text>
<line x1="56.30" y1="376.15" x2="62.90" y2="376.15" stroke="#444" stroke-width="1.2" />
<text x="53.3" y="380.8" font-size="13.3" text-anchor="end" fill="#333"  style="">3.0</text>
<line x1="56.30" y1="351.20" x2="62.90" y2="351.20" stroke="#444" stroke-width="1.2" />
<text x="53.3" y="355.8" font-size="13.3" text-anchor="end" fill="#333"  style="">3.5</text>
<line x1="127.43" y1="509.40" x2="127.43" y2="515.80" stroke="#444" stroke-width="1.2" />
<text x="127.4" y="531.6" font-size="13.3" text-anchor="middle" fill="#333"  style="">50</text>
<line x1="193.95" y1="509.40" x2="193.95" y2="515.80" stroke="#444" stroke-width="1.2" />
<text x="194.0" y="531.6" font-size="13.3" text-anchor="middle" fill="#333"  style="">100</text>
<line x1="260.47" y1="509.40" x2="260.47" y2="515.80" stroke="#444" stroke-width="1.2" />
<text x="260.5" y="531.6" font-size="13.3" text-anchor="middle" fill="#333"  style="">150</text>
<line x1="327.00" y1="509.40" x2="327.00" y2="515.80" stroke="#444" stroke-width="1.2" />
<text x="327.0" y="531.6" font-size="13.3" text-anchor="middle" fill="#333"  style="">200</text>
<text x="195" y="549.8" font-size="13.5" text-anchor="middle" fill="#333">Δ<tspan font-style="italic">t</tspan> (s)</text>
<text transform="translate(18.6,427.4) rotate(-90)" font-size="14.5" text-anchor="middle" fill="#333">Δ<tspan font-style="italic">r</tspan> (nm)</text>
<path d="M346 338.5 V550.7 M676 338.5 V550.7" fill="none" stroke="#f0f0f0" stroke-width="1"/>
<path d="M346 550.7 H676" fill="none" stroke="#dddddd" stroke-width="1.2"/>
<path d="M410.0 343.3 L411.3 349.2 L412.6 355.0 L414.0 360.5 L415.3 365.9 L416.6 371.0 L417.9 375.9 L419.3 380.7 L420.6 385.3 L421.9 389.7 L423.2 394.0 L424.5 398.1 L425.9 402.0 L427.2 405.9 L428.5 409.5 L429.8 413.1 L431.1 416.5 L432.5 419.7 L433.8 422.9 L435.1 426.0 L436.4 428.9 L437.8 431.7 L439.1 434.4 L440.4 437.1 L441.7 439.6 L443.0 442.0 L444.4 444.4 L445.7 446.6 L447.0 448.8 L448.3 450.9 L449.6 452.9 L451.0 454.9 L452.3 456.8 L453.6 458.6 L454.9 460.3 L456.3 462.0 L457.6 463.6 L458.9 465.1 L460.2 466.6 L461.5 468.1 L462.9 469.5 L464.2 470.8 L465.5 472.1 L466.8 473.4 L468.1 474.6 L469.5 475.7 L470.8 476.8 L472.1 477.9 L473.4 478.9 L474.8 479.9 L476.1 480.9 L477.4 481.8 L478.7 482.7 L480.0 483.5 L481.4 484.4 L482.7 485.2 L484.0 485.9 L485.3 486.7 L486.6 487.4 L488.0 488.1 L489.3 488.7 L490.6 489.4 L491.9 490.0 L493.3 490.6 L494.6 491.1 L495.9 491.7 L497.2 492.2 L498.5 492.7 L499.9 493.2 L501.2 493.7 L502.5 494.1 L503.8 494.6 L505.1 495.0 L506.5 495.4 L507.8 495.8 L509.1 496.2 L510.4 496.5 L511.8 496.9 L513.1 497.2 L514.4 497.5 L515.7 497.9 L517.0 498.2 L518.4 498.4 L519.7 498.7 L521.0 499.0 L522.3 499.3 L523.6 499.5 L525.0 499.7 L526.3 500.0 L527.6 500.2 L528.9 500.4 L530.3 500.6 L531.6 500.8 L532.9 501.0 L534.2 501.2 L535.5 501.4 L536.9 501.6 L538.2 501.7 L539.5 501.9 L540.8 502.0 L542.1 502.2 L543.5 502.3 L544.8 502.5 L546.1 502.6 L547.4 502.7 L548.8 502.8 L550.1 503.0 L551.4 503.1 L552.7 503.2 L554.0 503.3 L555.4 503.4 L556.7 503.5 L558.0 503.6 L559.3 503.7 L560.7 503.8 L562.0 503.9 L563.3 503.9 L564.6 504.0 L565.9 504.1 L567.3 504.2 L568.6 504.2 L569.9 504.3 L571.2 504.4 L572.5 504.4 L573.9 504.5 L575.2 504.5 L576.5 504.6 L577.8 504.7 L579.2 504.7 L580.5 504.8 L581.8 504.8 L583.1 504.9 L584.4 504.9 L585.8 504.9 L587.1 505.0 L588.4 505.0 L589.7 505.1 L591.0 505.1 L592.4 505.1 L593.7 505.2 L595.0 505.2 L596.3 505.2 L597.7 505.3 L599.0 505.3 L600.3 505.3 L601.6 505.4 L602.9 505.4 L604.3 505.4 L605.6 505.4 L606.9 505.5 L608.2 505.5 L609.5 505.5 L610.9 505.5 L612.2 505.5 L613.5 505.6 L614.8 505.6 L616.2 505.6 L617.5 505.6 L618.8 505.6 L620.1 505.6 L621.4 505.7 L622.8 505.7 L624.1 505.7 L625.4 505.7 L626.7 505.7 L628.0 505.7 L629.4 505.7 L630.7 505.8 L632.0 505.8 L633.3 505.8 L634.7 505.8 L636.0 505.8 L637.3 505.8 L638.6 505.8 L639.9 505.8 L641.3 505.8 L642.6 505.9 L643.9 505.9 L645.2 505.9 L646.5 505.9 L647.9 505.9 L649.2 505.9 L650.5 505.9 L651.8 505.9 L653.2 505.9 L654.5 505.9 L655.8 505.9 L657.1 505.9 L658.4 505.9 L659.8 505.9 L661.1 505.9 L662.4 505.9 L663.7 506.0 L665.0 506.0 L666.4 506.0 L667.7 506.0 L669.0 506.0 L670.3 506.0" fill="none" stroke="#e8343a" stroke-width="1.4" />
<path d="M408.4 452.8 H449.6 V508.0" fill="none" stroke="#4a7fd0" stroke-width="1.4" stroke-dasharray="4.2 2.6"/>
<rect x="408.4" y="341.2" width="265.6" height="166.8" fill="none" stroke="#777" stroke-width="1.3"/>
<line x1="402.50" y1="504.60" x2="408.40" y2="504.60" stroke="#444" stroke-width="1.2" />
<text x="398.0" y="509.2" font-size="13.3" text-anchor="end" fill="#333"  style="">0.65</text>
<line x1="402.50" y1="467.60" x2="408.40" y2="467.60" stroke="#444" stroke-width="1.2" />
<text x="398.0" y="472.2" font-size="13.3" text-anchor="end" fill="#333"  style="">0.70</text>
<line x1="402.50" y1="430.60" x2="408.40" y2="430.60" stroke="#444" stroke-width="1.2" />
<text x="398.0" y="435.2" font-size="13.3" text-anchor="end" fill="#333"  style="">0.75</text>
<line x1="402.50" y1="393.60" x2="408.40" y2="393.60" stroke="#444" stroke-width="1.2" />
<text x="398.0" y="398.2" font-size="13.3" text-anchor="end" fill="#333"  style="">0.80</text>
<line x1="402.50" y1="356.60" x2="408.40" y2="356.60" stroke="#444" stroke-width="1.2" />
<text x="398.0" y="361.2" font-size="13.3" text-anchor="end" fill="#333"  style="">0.85</text>
<line x1="410.00" y1="508.00" x2="410.00" y2="514.50" stroke="#444" stroke-width="1.2" />
<text x="410.0" y="530.6" font-size="13.3" text-anchor="middle" fill="#333"  style="">0</text>
<line x1="462.86" y1="508.00" x2="462.86" y2="514.50" stroke="#444" stroke-width="1.2" />
<text x="462.9" y="530.6" font-size="13.3" text-anchor="middle" fill="#333"  style="">20</text>
<line x1="515.72" y1="508.00" x2="515.72" y2="514.50" stroke="#444" stroke-width="1.2" />
<text x="515.7" y="530.6" font-size="13.3" text-anchor="middle" fill="#333"  style="">40</text>
<line x1="568.58" y1="508.00" x2="568.58" y2="514.50" stroke="#444" stroke-width="1.2" />
<text x="568.6" y="530.6" font-size="13.3" text-anchor="middle" fill="#333"  style="">60</text>
<line x1="621.44" y1="508.00" x2="621.44" y2="514.50" stroke="#444" stroke-width="1.2" />
<text x="621.4" y="530.6" font-size="13.3" text-anchor="middle" fill="#333"  style="">80</text>
<text x="537.5" y="546" font-size="13.5" text-anchor="middle" fill="#333">Δ<tspan font-style="italic">t</tspan> (s)</text>
<text transform="translate(358.3,425.5) rotate(-90)" font-size="14.5" text-anchor="middle" fill="#333">Δ<tspan font-style="italic">r</tspan> (nm)</text>
<text x="477" y="393.5" font-size="21.5" fill="#222"><tspan font-style="italic">g</tspan><tspan font-size="14" dy="4">4</tspan><tspan dy="-4">(Δ<tspan font-style="italic">t</tspan>, Δ<tspan font-style="italic">r</tspan>) = 0.5</tspan></text>
<text x="456.5" y="450.5" font-size="24" fill="#111" style="font-family:&quot;Liberation Serif&quot;,serif">(<tspan font-style="italic">ε</tspan>,<tspan font-style="italic">ν</tspan>)</text>
<rect x="80.5" y="611" width="246.89999999999998" height="200" fill="none" stroke="#3a3a3a" stroke-width="1.3"/>
<line x1="92.84" y1="811.00" x2="92.84" y2="813.50" stroke="#3a3a3a" stroke-width="1.1" />
<line x1="117.53" y1="811.00" x2="117.53" y2="815.00" stroke="#3a3a3a" stroke-width="1.1" />
<text x="117.5" y="837.3" font-size="16" text-anchor="middle" fill="#222"  style="">508</text>
<line x1="142.22" y1="811.00" x2="142.22" y2="813.50" stroke="#3a3a3a" stroke-width="1.1" />
<line x1="166.91" y1="811.00" x2="166.91" y2="815.00" stroke="#3a3a3a" stroke-width="1.1" />
<text x="166.9" y="837.3" font-size="16" text-anchor="middle" fill="#222"  style="">512</text>
<line x1="191.60" y1="811.00" x2="191.60" y2="813.50" stroke="#3a3a3a" stroke-width="1.1" />
<line x1="216.29" y1="811.00" x2="216.29" y2="815.00" stroke="#3a3a3a" stroke-width="1.1" />
<text x="216.3" y="837.3" font-size="16" text-anchor="middle" fill="#222"  style="">516</text>
<line x1="240.98" y1="811.00" x2="240.98" y2="813.50" stroke="#3a3a3a" stroke-width="1.1" />
<line x1="265.67" y1="811.00" x2="265.67" y2="815.00" stroke="#3a3a3a" stroke-width="1.1" />
<text x="265.7" y="837.3" font-size="16" text-anchor="middle" fill="#222"  style="">520</text>
<line x1="290.36" y1="811.00" x2="290.36" y2="813.50" stroke="#3a3a3a" stroke-width="1.1" />
<line x1="315.05" y1="811.00" x2="315.05" y2="815.00" stroke="#3a3a3a" stroke-width="1.1" />
<text x="315.1" y="837.3" font-size="16" text-anchor="middle" fill="#222"  style="">524</text>
<line x1="78.00" y1="800.47" x2="80.50" y2="800.47" stroke="#3a3a3a" stroke-width="1.1" />
<line x1="76.50" y1="779.42" x2="80.50" y2="779.42" stroke="#3a3a3a" stroke-width="1.1" />
<text x="68.5" y="785.0" font-size="16" text-anchor="end" fill="#222"  style="">0.8</text>
<line x1="78.00" y1="758.37" x2="80.50" y2="758.37" stroke="#3a3a3a" stroke-width="1.1" />
<line x1="76.50" y1="737.32" x2="80.50" y2="737.32" stroke="#3a3a3a" stroke-width="1.1" />
<text x="68.5" y="742.9" font-size="16" text-anchor="end" fill="#222"  style="">1.0</text>
<line x1="78.00" y1="716.26" x2="80.50" y2="716.26" stroke="#3a3a3a" stroke-width="1.1" />
<line x1="76.50" y1="695.21" x2="80.50" y2="695.21" stroke="#3a3a3a" stroke-width="1.1" />
<text x="68.5" y="700.8" font-size="16" text-anchor="end" fill="#222"  style="">1.2</text>
<line x1="78.00" y1="674.16" x2="80.50" y2="674.16" stroke="#3a3a3a" stroke-width="1.1" />
<line x1="76.50" y1="653.11" x2="80.50" y2="653.11" stroke="#3a3a3a" stroke-width="1.1" />
<text x="68.5" y="658.7" font-size="16" text-anchor="end" fill="#222"  style="">1.4</text>
<line x1="78.00" y1="632.05" x2="80.50" y2="632.05" stroke="#3a3a3a" stroke-width="1.1" />
<line x1="76.50" y1="611.00" x2="80.50" y2="611.00" stroke="#3a3a3a" stroke-width="1.1" />
<text x="68.5" y="616.6" font-size="16" text-anchor="end" fill="#222"  style="">1.6</text>
<line x1="105.19" y1="644.68" x2="105.19" y2="657.32" stroke="#555" stroke-width="1" />
<line x1="102.69" y1="644.68" x2="107.69" y2="644.68" stroke="#555" stroke-width="1" />
<line x1="102.69" y1="657.32" x2="107.69" y2="657.32" stroke="#555" stroke-width="1" />
<rect x="103.1" y="648.9" width="4.2" height="4.2" fill="#111"/>
<line x1="154.57" y1="658.37" x2="154.57" y2="668.89" stroke="#555" stroke-width="1" />
<line x1="152.07" y1="658.37" x2="157.07" y2="658.37" stroke="#555" stroke-width="1" />
<line x1="152.07" y1="668.89" x2="157.07" y2="668.89" stroke="#555" stroke-width="1" />
<rect x="152.5" y="661.5" width="4.2" height="4.2" fill="#111"/>
<line x1="203.95" y1="697.32" x2="203.95" y2="709.95" stroke="#555" stroke-width="1" />
<line x1="201.45" y1="697.32" x2="206.45" y2="697.32" stroke="#555" stroke-width="1" />
<line x1="201.45" y1="709.95" x2="206.45" y2="709.95" stroke="#555" stroke-width="1" />
<rect x="201.8" y="701.5" width="4.2" height="4.2" fill="#111"/>
<line x1="253.33" y1="733.11" x2="253.33" y2="749.95" stroke="#555" stroke-width="1" />
<line x1="250.83" y1="733.11" x2="255.83" y2="733.11" stroke="#555" stroke-width="1" />
<line x1="250.83" y1="749.95" x2="255.83" y2="749.95" stroke="#555" stroke-width="1" />
<rect x="251.2" y="739.4" width="4.2" height="4.2" fill="#111"/>
<line x1="302.71" y1="762.79" x2="302.71" y2="793.95" stroke="#555" stroke-width="1" />
<line x1="300.21" y1="762.79" x2="305.21" y2="762.79" stroke="#555" stroke-width="1" />
<line x1="300.21" y1="793.95" x2="305.21" y2="793.95" stroke="#555" stroke-width="1" />
<rect x="300.6" y="776.3" width="4.2" height="4.2" fill="#111"/>
<text x="204.5" y="863.6" font-size="19.5" text-anchor="middle" fill="#222"  style="">Temperature (K)</text>
<text transform="translate(22.3,700) rotate(-90)" font-size="19.5" text-anchor="middle" fill="#222"><tspan font-family="Liberation Serif" font-style="italic">ξ</tspan> (nm)</text>
<rect x="430.5" y="611" width="246.10000000000002" height="200.20000000000005" fill="none" stroke="#3a3a3a" stroke-width="1.3"/>
<line x1="430.50" y1="811.20" x2="430.50" y2="815.20" stroke="#3a3a3a" stroke-width="1.1" />
<text x="430.5" y="836.0" font-size="16" text-anchor="middle" fill="#222"  style="">3</text>
<line x1="471.52" y1="811.20" x2="471.52" y2="813.70" stroke="#3a3a3a" stroke-width="1.1" />
<line x1="512.53" y1="811.20" x2="512.53" y2="815.20" stroke="#3a3a3a" stroke-width="1.1" />
<text x="512.5" y="836.0" font-size="16" text-anchor="middle" fill="#222"  style="">4</text>
<line x1="553.55" y1="811.20" x2="553.55" y2="813.70" stroke="#3a3a3a" stroke-width="1.1" />
<line x1="594.57" y1="811.20" x2="594.57" y2="815.20" stroke="#3a3a3a" stroke-width="1.1" />
<text x="594.6" y="836.0" font-size="16" text-anchor="middle" fill="#222"  style="">5</text>
<line x1="635.58" y1="811.20" x2="635.58" y2="813.70" stroke="#3a3a3a" stroke-width="1.1" />
<line x1="676.60" y1="811.20" x2="676.60" y2="815.20" stroke="#3a3a3a" stroke-width="1.1" />
<text x="676.6" y="836.0" font-size="16" text-anchor="middle" fill="#222"  style="">6</text>
<line x1="428.00" y1="800.50" x2="430.50" y2="800.50" stroke="#3a3a3a" stroke-width="1.1" />
<line x1="426.50" y1="778.20" x2="430.50" y2="778.20" stroke="#3a3a3a" stroke-width="1.1" />
<text x="421.5" y="783.8" font-size="16" text-anchor="end" fill="#222"  style="">0.8</text>
<line x1="428.00" y1="755.90" x2="430.50" y2="755.90" stroke="#3a3a3a" stroke-width="1.1" />
<line x1="426.50" y1="733.60" x2="430.50" y2="733.60" stroke="#3a3a3a" stroke-width="1.1" />
<text x="421.5" y="739.2" font-size="16" text-anchor="end" fill="#222"  style="">1.0</text>
<line x1="428.00" y1="711.30" x2="430.50" y2="711.30" stroke="#3a3a3a" stroke-width="1.1" />
<line x1="426.50" y1="689.00" x2="430.50" y2="689.00" stroke="#3a3a3a" stroke-width="1.1" />
<text x="421.5" y="694.6" font-size="16" text-anchor="end" fill="#222"  style="">1.2</text>
<line x1="428.00" y1="666.70" x2="430.50" y2="666.70" stroke="#3a3a3a" stroke-width="1.1" />
<line x1="426.50" y1="644.40" x2="430.50" y2="644.40" stroke="#3a3a3a" stroke-width="1.1" />
<text x="421.5" y="650.0" font-size="16" text-anchor="end" fill="#222"  style="">1.4</text>
<line x1="428.00" y1="622.10" x2="430.50" y2="622.10" stroke="#3a3a3a" stroke-width="1.1" />
<line x1="464.40" y1="764.00" x2="651.20" y2="630.00" stroke="#e05a50" stroke-width="1.2" />
<line x1="464.54" y1="760.58" x2="464.54" y2="793.59" stroke="#555" stroke-width="1" />
<line x1="462.04" y1="760.58" x2="467.04" y2="760.58" stroke="#555" stroke-width="1" />
<line x1="462.04" y1="793.59" x2="467.04" y2="793.59" stroke="#555" stroke-width="1" />
<rect x="462.4" y="775.0" width="4.2" height="4.2" fill="#111"/>
<line x1="515.40" y1="729.14" x2="515.40" y2="746.98" stroke="#555" stroke-width="1" />
<line x1="512.90" y1="729.14" x2="517.90" y2="729.14" stroke="#555" stroke-width="1" />
<line x1="512.90" y1="746.98" x2="517.90" y2="746.98" stroke="#555" stroke-width="1" />
<rect x="513.3" y="736.0" width="4.2" height="4.2" fill="#111"/>
<line x1="552.32" y1="691.23" x2="552.32" y2="704.61" stroke="#555" stroke-width="1" />
<line x1="549.82" y1="691.23" x2="554.82" y2="691.23" stroke="#555" stroke-width="1" />
<line x1="549.82" y1="704.61" x2="554.82" y2="704.61" stroke="#555" stroke-width="1" />
<rect x="550.2" y="695.8" width="4.2" height="4.2" fill="#111"/>
<line x1="599.49" y1="649.97" x2="599.49" y2="661.12" stroke="#555" stroke-width="1" />
<line x1="596.99" y1="649.97" x2="601.99" y2="649.97" stroke="#555" stroke-width="1" />
<line x1="596.99" y1="661.12" x2="601.99" y2="661.12" stroke="#555" stroke-width="1" />
<rect x="597.4" y="653.4" width="4.2" height="4.2" fill="#111"/>
<line x1="651.99" y1="635.48" x2="651.99" y2="648.86" stroke="#555" stroke-width="1" />
<line x1="649.49" y1="635.48" x2="654.49" y2="635.48" stroke="#555" stroke-width="1" />
<line x1="649.49" y1="648.86" x2="654.49" y2="648.86" stroke="#555" stroke-width="1" />
<rect x="649.9" y="640.1" width="4.2" height="4.2" fill="#111"/>
<text x="550.5" y="863" font-size="19.5" text-anchor="middle" fill="#222">ln(<tspan font-family="Liberation Serif" font-style="italic">τ</tspan>)</text>
<text transform="translate(375.4,711) rotate(-90)" font-size="19.5" text-anchor="middle" fill="#222"><tspan font-family="Liberation Serif" font-style="italic">ξ</tspan> (nm)</text>
<rect x="81" y="907.6" width="246.39999999999998" height="200.80000000000007" fill="none" stroke="#3a3a3a" stroke-width="1.3"/>
<line x1="88.99" y1="1108.40" x2="88.99" y2="1110.60" stroke="#3a3a3a" stroke-width="1" />
<line x1="97.16" y1="1108.40" x2="97.16" y2="1110.60" stroke="#3a3a3a" stroke-width="1" />
<line x1="105.12" y1="1108.40" x2="105.12" y2="1110.60" stroke="#3a3a3a" stroke-width="1" />
<line x1="112.87" y1="1108.40" x2="112.87" y2="1110.60" stroke="#3a3a3a" stroke-width="1" />
<line x1="120.42" y1="1108.40" x2="120.42" y2="1112.40" stroke="#3a3a3a" stroke-width="1" />
<line x1="127.79" y1="1108.40" x2="127.79" y2="1110.60" stroke="#3a3a3a" stroke-width="1" />
<line x1="134.98" y1="1108.40" x2="134.98" y2="1110.60" stroke="#3a3a3a" stroke-width="1" />
<line x1="142.00" y1="1108.40" x2="142.00" y2="1110.60" stroke="#3a3a3a" stroke-width="1" />
<line x1="148.86" y1="1108.40" x2="148.86" y2="1110.60" stroke="#3a3a3a" stroke-width="1" />
<line x1="155.56" y1="1108.40" x2="155.56" y2="1110.60" stroke="#3a3a3a" stroke-width="1" />
<line x1="162.12" y1="1108.40" x2="162.12" y2="1110.60" stroke="#3a3a3a" stroke-width="1" />
<line x1="168.54" y1="1108.40" x2="168.54" y2="1110.60" stroke="#3a3a3a" stroke-width="1" />
<line x1="174.82" y1="1108.40" x2="174.82" y2="1110.60" stroke="#3a3a3a" stroke-width="1" />
<line x1="180.97" y1="1108.40" x2="180.97" y2="1110.60" stroke="#3a3a3a" stroke-width="1" />
<line x1="187.00" y1="1108.40" x2="187.00" y2="1112.40" stroke="#3a3a3a" stroke-width="1" />
<line x1="192.91" y1="1108.40" x2="192.91" y2="1110.60" stroke="#3a3a3a" stroke-width="1" />
<line x1="198.70" y1="1108.40" x2="198.70" y2="1110.60" stroke="#3a3a3a" stroke-width="1" />
<line x1="204.39" y1="1108.40" x2="204.39" y2="1110.60" stroke="#3a3a3a" stroke-width="1" />
<line x1="209.96" y1="1108.40" x2="209.96" y2="1110.60" stroke="#3a3a3a" stroke-width="1" />
<line x1="215.44" y1="1108.40" x2="215.44" y2="1110.60" stroke="#3a3a3a" stroke-width="1" />
<line x1="220.81" y1="1108.40" x2="220.81" y2="1110.60" stroke="#3a3a3a" stroke-width="1" />
<line x1="226.09" y1="1108.40" x2="226.09" y2="1110.60" stroke="#3a3a3a" stroke-width="1" />
<line x1="231.28" y1="1108.40" x2="231.28" y2="1110.60" stroke="#3a3a3a" stroke-width="1" />
<line x1="236.38" y1="1108.40" x2="236.38" y2="1110.60" stroke="#3a3a3a" stroke-width="1" />
<line x1="241.40" y1="1108.40" x2="241.40" y2="1112.40" stroke="#3a3a3a" stroke-width="1" />
<line x1="246.33" y1="1108.40" x2="246.33" y2="1110.60" stroke="#3a3a3a" stroke-width="1" />
<line x1="251.18" y1="1108.40" x2="251.18" y2="1110.60" stroke="#3a3a3a" stroke-width="1" />
<line x1="255.95" y1="1108.40" x2="255.95" y2="1110.60" stroke="#3a3a3a" stroke-width="1" />
<line x1="260.65" y1="1108.40" x2="260.65" y2="1110.60" stroke="#3a3a3a" stroke-width="1" />
<line x1="265.28" y1="1108.40" x2="265.28" y2="1110.60" stroke="#3a3a3a" stroke-width="1" />
<line x1="269.83" y1="1108.40" x2="269.83" y2="1110.60" stroke="#3a3a3a" stroke-width="1" />
<line x1="274.32" y1="1108.40" x2="274.32" y2="1110.60" stroke="#3a3a3a" stroke-width="1" />
<line x1="278.74" y1="1108.40" x2="278.74" y2="1110.60" stroke="#3a3a3a" stroke-width="1" />
<line x1="283.10" y1="1108.40" x2="283.10" y2="1110.60" stroke="#3a3a3a" stroke-width="1" />
<line x1="287.39" y1="1108.40" x2="287.39" y2="1112.40" stroke="#3a3a3a" stroke-width="1" />
<line x1="291.62" y1="1108.40" x2="291.62" y2="1110.60" stroke="#3a3a3a" stroke-width="1" />
<line x1="295.80" y1="1108.40" x2="295.80" y2="1110.60" stroke="#3a3a3a" stroke-width="1" />
<line x1="299.91" y1="1108.40" x2="299.91" y2="1110.60" stroke="#3a3a3a" stroke-width="1" />
<line x1="303.97" y1="1108.40" x2="303.97" y2="1110.60" stroke="#3a3a3a" stroke-width="1" />
<line x1="307.97" y1="1108.40" x2="307.97" y2="1110.60" stroke="#3a3a3a" stroke-width="1" />
<line x1="311.93" y1="1108.40" x2="311.93" y2="1110.60" stroke="#3a3a3a" stroke-width="1" />
<line x1="315.83" y1="1108.40" x2="315.83" y2="1110.60" stroke="#3a3a3a" stroke-width="1" />
<line x1="319.68" y1="1108.40" x2="319.68" y2="1110.60" stroke="#3a3a3a" stroke-width="1" />
<line x1="323.48" y1="1108.40" x2="323.48" y2="1110.60" stroke="#3a3a3a" stroke-width="1" />
<line x1="327.23" y1="1108.40" x2="327.23" y2="1112.40" stroke="#3a3a3a" stroke-width="1" />
<text x="120.4" y="1130.5" font-size="16" text-anchor="middle" fill="#222"  style="">0.8</text>
<text x="187.0" y="1130.5" font-size="16" text-anchor="middle" fill="#222"  style="">1</text>
<text x="241.4" y="1130.5" font-size="16" text-anchor="middle" fill="#222"  style="">1.2</text>
<text x="287.4" y="1130.5" font-size="16" text-anchor="middle" fill="#222"  style="">1.4</text>
<text x="327.2" y="1130.5" font-size="16" text-anchor="middle" fill="#222"  style="">1.6</text>
<line x1="78.50" y1="1107.85" x2="81.00" y2="1107.85" stroke="#3a3a3a" stroke-width="1.1" />
<line x1="78.50" y1="1081.79" x2="81.00" y2="1081.79" stroke="#3a3a3a" stroke-width="1.1" />
<line x1="78.50" y1="1063.30" x2="81.00" y2="1063.30" stroke="#3a3a3a" stroke-width="1.1" />
<line x1="78.50" y1="1048.95" x2="81.00" y2="1048.95" stroke="#3a3a3a" stroke-width="1.1" />
<line x1="78.50" y1="1037.23" x2="81.00" y2="1037.23" stroke="#3a3a3a" stroke-width="1.1" />
<line x1="78.50" y1="1027.33" x2="81.00" y2="1027.33" stroke="#3a3a3a" stroke-width="1.1" />
<line x1="78.50" y1="1018.74" x2="81.00" y2="1018.74" stroke="#3a3a3a" stroke-width="1.1" />
<line x1="78.50" y1="1011.17" x2="81.00" y2="1011.17" stroke="#3a3a3a" stroke-width="1.1" />
<line x1="77.00" y1="1004.40" x2="81.00" y2="1004.40" stroke="#3a3a3a" stroke-width="1.1" />
<line x1="78.50" y1="959.85" x2="81.00" y2="959.85" stroke="#3a3a3a" stroke-width="1.1" />
<line x1="78.50" y1="933.79" x2="81.00" y2="933.79" stroke="#3a3a3a" stroke-width="1.1" />
<line x1="78.50" y1="915.30" x2="81.00" y2="915.30" stroke="#3a3a3a" stroke-width="1.1" />
<text x="68.5" y="1010.0" font-size="16" text-anchor="end" fill="#222"  style="">100</text>
<line x1="122.30" y1="1087.70" x2="289.80" y2="954.60" stroke="#e05a50" stroke-width="1.2" />
<line x1="98.50" y1="1080.70" x2="145.00" y2="1080.70" stroke="#666" stroke-width="1" />
<line x1="98.50" y1="1078.20" x2="98.50" y2="1083.20" stroke="#666" stroke-width="1" />
<line x1="145.00" y1="1078.20" x2="145.00" y2="1083.20" stroke="#666" stroke-width="1" />
<rect x="120.2" y="1078.6" width="4.2" height="4.2" fill="#111"/>
<line x1="167.70" y1="1041.10" x2="192.80" y2="1041.10" stroke="#666" stroke-width="1" />
<line x1="167.70" y1="1038.60" x2="167.70" y2="1043.60" stroke="#666" stroke-width="1" />
<line x1="192.80" y1="1038.60" x2="192.80" y2="1043.60" stroke="#666" stroke-width="1" />
<rect x="178.7" y="1039.0" width="4.2" height="4.2" fill="#111"/>
<line x1="222.80" y1="1018.50" x2="239.50" y2="1018.50" stroke="#666" stroke-width="1" />
<line x1="222.80" y1="1016.00" x2="222.80" y2="1021.00" stroke="#666" stroke-width="1" />
<line x1="239.50" y1="1016.00" x2="239.50" y2="1021.00" stroke="#666" stroke-width="1" />
<rect x="228.6" y="1016.4" width="4.2" height="4.2" fill="#111"/>
<line x1="271.20" y1="975.20" x2="282.60" y2="975.20" stroke="#666" stroke-width="1" />
<line x1="271.20" y1="972.70" x2="271.20" y2="977.70" stroke="#666" stroke-width="1" />
<line x1="282.60" y1="972.70" x2="282.60" y2="977.70" stroke="#666" stroke-width="1" />
<rect x="274.6" y="973.1" width="4.2" height="4.2" fill="#111"/>
<line x1="283.70" y1="934.70" x2="296.90" y2="934.70" stroke="#666" stroke-width="1" />
<line x1="283.70" y1="932.20" x2="283.70" y2="937.20" stroke="#666" stroke-width="1" />
<line x1="296.90" y1="932.20" x2="296.90" y2="937.20" stroke="#666" stroke-width="1" />
<rect x="287.7" y="932.6" width="4.2" height="4.2" fill="#111"/>
<text x="204" y="1161" font-size="20" text-anchor="middle" fill="#222"><tspan font-family="Liberation Serif" font-style="italic">ξ</tspan> (nm)</text>
<text transform="translate(23,1007) rotate(-90)" font-size="19.5" text-anchor="middle" fill="#222"><tspan font-family="Liberation Serif" font-style="italic">τ</tspan> (s)</text>
<rect x="430.4" y="907.6" width="246.20000000000005" height="200.39999999999998" fill="none" stroke="#3a3a3a" stroke-width="1.3"/>
<line x1="430.40" y1="1108.00" x2="430.40" y2="1112.00" stroke="#3a3a3a" stroke-width="1.1" />
<text x="430.4" y="1131.5" font-size="16" text-anchor="middle" fill="#222"  style="">9</text>
<line x1="458.81" y1="1108.00" x2="458.81" y2="1110.50" stroke="#3a3a3a" stroke-width="1.1" />
<line x1="487.22" y1="1108.00" x2="487.22" y2="1112.00" stroke="#3a3a3a" stroke-width="1.1" />
<text x="487.2" y="1131.5" font-size="16" text-anchor="middle" fill="#222"  style="">12</text>
<line x1="515.62" y1="1108.00" x2="515.62" y2="1110.50" stroke="#3a3a3a" stroke-width="1.1" />
<line x1="544.03" y1="1108.00" x2="544.03" y2="1112.00" stroke="#3a3a3a" stroke-width="1.1" />
<text x="544.0" y="1131.5" font-size="16" text-anchor="middle" fill="#222"  style="">15</text>
<line x1="572.44" y1="1108.00" x2="572.44" y2="1110.50" stroke="#3a3a3a" stroke-width="1.1" />
<line x1="600.85" y1="1108.00" x2="600.85" y2="1112.00" stroke="#3a3a3a" stroke-width="1.1" />
<text x="600.8" y="1131.5" font-size="16" text-anchor="middle" fill="#222"  style="">18</text>
<line x1="629.25" y1="1108.00" x2="629.25" y2="1110.50" stroke="#3a3a3a" stroke-width="1.1" />
<line x1="657.66" y1="1108.00" x2="657.66" y2="1112.00" stroke="#3a3a3a" stroke-width="1.1" />
<text x="657.7" y="1131.5" font-size="16" text-anchor="middle" fill="#222"  style="">21</text>
<line x1="427.90" y1="1107.85" x2="430.40" y2="1107.85" stroke="#3a3a3a" stroke-width="1.1" />
<line x1="427.90" y1="1081.79" x2="430.40" y2="1081.79" stroke="#3a3a3a" stroke-width="1.1" />
<line x1="427.90" y1="1063.30" x2="430.40" y2="1063.30" stroke="#3a3a3a" stroke-width="1.1" />
<line x1="427.90" y1="1048.95" x2="430.40" y2="1048.95" stroke="#3a3a3a" stroke-width="1.1" />
<line x1="427.90" y1="1037.23" x2="430.40" y2="1037.23" stroke="#3a3a3a" stroke-width="1.1" />
<line x1="427.90" y1="1027.33" x2="430.40" y2="1027.33" stroke="#3a3a3a" stroke-width="1.1" />
<line x1="427.90" y1="1018.74" x2="430.40" y2="1018.74" stroke="#3a3a3a" stroke-width="1.1" />
<line x1="427.90" y1="1011.17" x2="430.40" y2="1011.17" stroke="#3a3a3a" stroke-width="1.1" />
<line x1="426.40" y1="1004.40" x2="430.40" y2="1004.40" stroke="#3a3a3a" stroke-width="1.1" />
<line x1="427.90" y1="959.85" x2="430.40" y2="959.85" stroke="#3a3a3a" stroke-width="1.1" />
<line x1="427.90" y1="933.79" x2="430.40" y2="933.79" stroke="#3a3a3a" stroke-width="1.1" />
<line x1="427.90" y1="915.30" x2="430.40" y2="915.30" stroke="#3a3a3a" stroke-width="1.1" />
<text x="418.0" y="1010.0" font-size="16" text-anchor="end" fill="#222"  style="">100</text>
<line x1="470.60" y1="1080.70" x2="641.80" y2="948.50" stroke="#e05a50" stroke-width="1.2" />
<line x1="453.40" y1="1080.70" x2="487.70" y2="1080.70" stroke="#666" stroke-width="1" />
<line x1="453.40" y1="1078.20" x2="453.40" y2="1083.20" stroke="#666" stroke-width="1" />
<line x1="487.70" y1="1078.20" x2="487.70" y2="1083.20" stroke="#666" stroke-width="1" />
<rect x="468.5" y="1078.6" width="4.2" height="4.2" fill="#111"/>
<line x1="505.80" y1="1041.00" x2="530.40" y2="1041.00" stroke="#666" stroke-width="1" />
<line x1="505.80" y1="1038.50" x2="505.80" y2="1043.50" stroke="#666" stroke-width="1" />
<line x1="530.40" y1="1038.50" x2="530.40" y2="1043.50" stroke="#666" stroke-width="1" />
<rect x="515.9" y="1038.9" width="4.2" height="4.2" fill="#111"/>
<line x1="559.10" y1="1011.10" x2="577.60" y2="1011.10" stroke="#666" stroke-width="1" />
<line x1="559.10" y1="1008.60" x2="559.10" y2="1013.60" stroke="#666" stroke-width="1" />
<line x1="577.60" y1="1008.60" x2="577.60" y2="1013.60" stroke="#666" stroke-width="1" />
<rect x="566.1" y="1009.0" width="4.2" height="4.2" fill="#111"/>
<line x1="613.30" y1="974.90" x2="628.50" y2="974.90" stroke="#666" stroke-width="1" />
<line x1="613.30" y1="972.40" x2="613.30" y2="977.40" stroke="#666" stroke-width="1" />
<line x1="628.50" y1="972.40" x2="628.50" y2="977.40" stroke="#666" stroke-width="1" />
<rect x="618.4" y="972.8" width="4.2" height="4.2" fill="#111"/>
<line x1="632.40" y1="934.50" x2="651.10" y2="934.50" stroke="#666" stroke-width="1" />
<line x1="632.40" y1="932.00" x2="632.40" y2="937.00" stroke="#666" stroke-width="1" />
<line x1="651.10" y1="932.00" x2="651.10" y2="937.00" stroke="#666" stroke-width="1" />
<rect x="639.2" y="932.4" width="4.2" height="4.2" fill="#111"/>
<text x="551.8" y="1159" font-size="19.5" text-anchor="middle" fill="#222"><tspan font-family="Liberation Serif" font-style="italic">ξ</tspan>/<tspan font-style="italic">k</tspan><tspan font-size="13" dy="4">B</tspan><tspan dy="-4" font-style="italic"> T</tspan></text>
<text transform="translate(375,1008.3) rotate(-90)" font-size="19.5" text-anchor="middle" fill="#222"><tspan font-family="Liberation Serif" font-style="italic">τ</tspan> (s)</text>
<text x="39.5" y="21.8" font-size="24" text-anchor="start" fill="#000"  style="">(a)</text>
<text x="35.0" y="323.4" font-size="24" text-anchor="start" fill="#000"  style="">(b)</text>
<text x="368.5" y="322.4" font-size="24" text-anchor="start" fill="#000"  style="">(c)</text>
<text x="35.0" y="587.7" font-size="24" text-anchor="start" fill="#000"  style="">(d)</text>
<text x="367.0" y="588.4" font-size="24" text-anchor="start" fill="#000"  style="">(e)</text>
<text x="43.0" y="887.1" font-size="24" text-anchor="start" fill="#000"  style="">(f)</text>
<text x="372.5" y="887.4" font-size="24" text-anchor="start" fill="#000"  style="">(g)</text>
</svg></body></html>
